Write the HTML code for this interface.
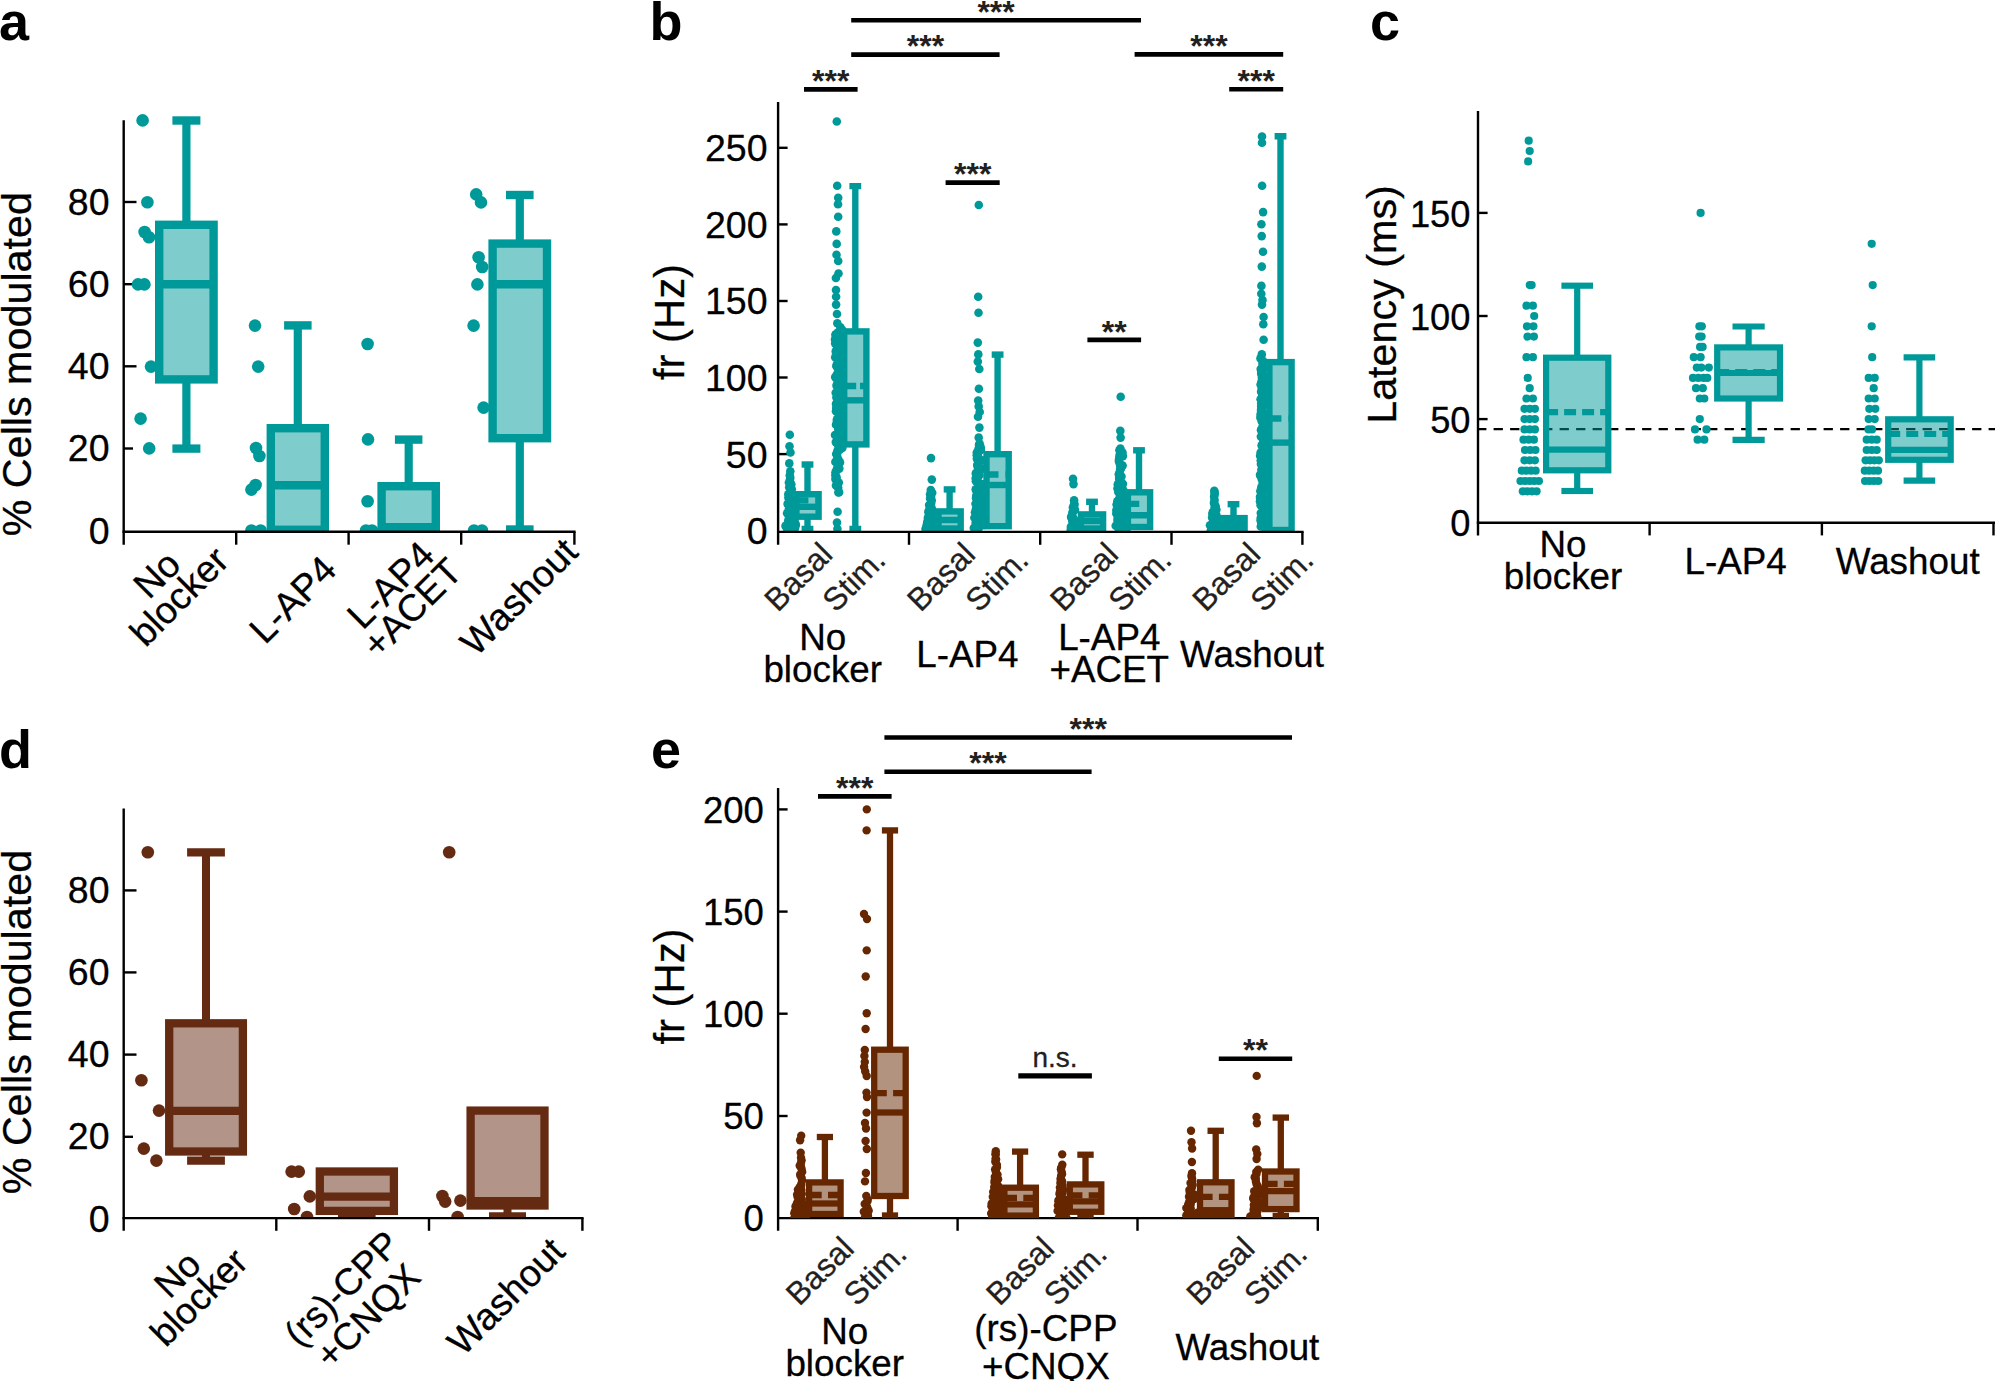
<!DOCTYPE html>
<html lang="en"><head><meta charset="utf-8"><title>Figure</title>
<style>html,body{margin:0;padding:0;background:#fff;}svg{display:block;}</style></head><body>
<svg width="1995" height="1381" viewBox="0 0 1995 1381" font-family="'Liberation Sans', Arial, Helvetica, sans-serif">
<rect width="1995" height="1381" fill="#fff"/>
<defs>
<clipPath id="ca"><rect x="100" y="90" width="520" height="441"/></clipPath>
<clipPath id="cb"><rect x="760" y="90" width="580" height="441.5"/></clipPath>
<clipPath id="cd"><rect x="100" y="790" width="520" height="428"/></clipPath>
<clipPath id="ce"><rect x="760" y="780" width="580" height="438.1"/></clipPath>
</defs>
<text x="-1" y="40" font-size="54" text-anchor="start" fill="#000" font-weight="bold">a</text>
<g transform="translate(16.2,364.2) rotate(-90)">
<text x="0" y="14.9" font-size="41.3" text-anchor="middle" fill="#000" stroke="#000" stroke-width="0.3">% Cells modulated</text>
</g>
<line x1="123.7" y1="448.5" x2="133" y2="448.5" stroke="#000" stroke-width="2.4"/>
<line x1="123.7" y1="366.3" x2="136.5" y2="366.3" stroke="#000" stroke-width="2.4"/>
<line x1="123.7" y1="284.2" x2="136.5" y2="284.2" stroke="#000" stroke-width="2.4"/>
<line x1="123.7" y1="202" x2="136.5" y2="202" stroke="#000" stroke-width="2.4"/>
<g clip-path="url(#ca)">
<line x1="186.4" y1="120.5" x2="186.4" y2="224.8" stroke="#009999" stroke-width="8.2"/>
<line x1="172.4" y1="120.5" x2="200.4" y2="120.5" stroke="#009999" stroke-width="8.4"/>
<line x1="186.4" y1="379.4" x2="186.4" y2="448.6" stroke="#009999" stroke-width="8.2"/>
<line x1="172.4" y1="448.6" x2="200.4" y2="448.6" stroke="#009999" stroke-width="8.4"/>
<rect x="159.2" y="224.8" width="54.4" height="154.6" fill="#009999" fill-opacity="0.5" stroke="#009999" stroke-width="8.4"/>
<line x1="159.2" y1="284.3" x2="213.6" y2="284.3" stroke="#009999" stroke-width="8.4"/>
<line x1="297.8" y1="325.4" x2="297.8" y2="428.2" stroke="#009999" stroke-width="8.2"/>
<line x1="284.1" y1="325.4" x2="311.6" y2="325.4" stroke="#009999" stroke-width="8.4"/>
<rect x="270.8" y="428.2" width="54" height="101.6" fill="#009999" fill-opacity="0.5" stroke="#009999" stroke-width="8.4"/>
<line x1="270.8" y1="485.2" x2="324.8" y2="485.2" stroke="#009999" stroke-width="8.4"/>
<line x1="408.7" y1="439.6" x2="408.7" y2="486.2" stroke="#009999" stroke-width="8.2"/>
<line x1="394.9" y1="439.6" x2="422.4" y2="439.6" stroke="#009999" stroke-width="8.4"/>
<rect x="381.6" y="486.2" width="54.2" height="41" fill="#009999" fill-opacity="0.5" stroke="#009999" stroke-width="8.4"/>
<line x1="519.8" y1="195" x2="519.8" y2="243.6" stroke="#009999" stroke-width="8.2"/>
<line x1="506" y1="195" x2="533.6" y2="195" stroke="#009999" stroke-width="8.4"/>
<line x1="519.8" y1="438.2" x2="519.8" y2="529.5" stroke="#009999" stroke-width="8.2"/>
<line x1="506" y1="529.5" x2="533.6" y2="529.5" stroke="#009999" stroke-width="8.4"/>
<rect x="492.6" y="243.6" width="54.4" height="194.6" fill="#009999" fill-opacity="0.5" stroke="#009999" stroke-width="8.4"/>
<line x1="492.6" y1="284.3" x2="547" y2="284.3" stroke="#009999" stroke-width="8.4"/>
<g fill="#009999"><circle cx="142.6" cy="120.4" r="6.3"/><circle cx="147.4" cy="202.2" r="6.3"/><circle cx="144.6" cy="232" r="6.3"/><circle cx="149" cy="237.2" r="6.3"/><circle cx="138" cy="284.4" r="6.3"/><circle cx="144.4" cy="284.4" r="6.3"/><circle cx="151" cy="366.6" r="6.3"/><circle cx="140.6" cy="418.6" r="6.3"/><circle cx="149.2" cy="448.4" r="6.3"/><circle cx="255" cy="325.6" r="6.3"/><circle cx="258.2" cy="366.6" r="6.3"/><circle cx="256" cy="448" r="6.3"/><circle cx="259.4" cy="456" r="6.3"/><circle cx="255.6" cy="485" r="6.3"/><circle cx="251.4" cy="489.6" r="6.3"/><circle cx="251.4" cy="530.5" r="6.3"/><circle cx="260.6" cy="530.5" r="6.3"/><circle cx="367.6" cy="344" r="6.3"/><circle cx="368" cy="439.4" r="6.3"/><circle cx="367.6" cy="501.2" r="6.3"/><circle cx="366" cy="530.5" r="6.3"/><circle cx="372" cy="530.5" r="6.3"/><circle cx="476.2" cy="194.4" r="6.3"/><circle cx="481" cy="202.4" r="6.3"/><circle cx="478.6" cy="257.2" r="6.3"/><circle cx="482.2" cy="267" r="6.3"/><circle cx="477.4" cy="284.4" r="6.3"/><circle cx="473.6" cy="325.6" r="6.3"/><circle cx="483.6" cy="407.6" r="6.3"/><circle cx="474" cy="530.5" r="6.3"/><circle cx="482" cy="530.5" r="6.3"/></g>
</g>
<line x1="123.7" y1="120.2" x2="123.7" y2="544.7" stroke="#000" stroke-width="2.4"/>
<line x1="122.5" y1="531.8" x2="575.6" y2="531.8" stroke="#000" stroke-width="2.4"/>
<line x1="236.2" y1="531.8" x2="236.2" y2="544.7" stroke="#000" stroke-width="2.4"/>
<line x1="348.6" y1="531.8" x2="348.6" y2="544.7" stroke="#000" stroke-width="2.4"/>
<line x1="461.2" y1="531.8" x2="461.2" y2="544.7" stroke="#000" stroke-width="2.4"/>
<line x1="574.4" y1="531.8" x2="574.4" y2="544.7" stroke="#000" stroke-width="2.4"/>
<text x="109.5" y="543.6" font-size="37.5" text-anchor="end" fill="#000" stroke="#000" stroke-width="0.3">0</text>
<text x="109.5" y="461.1" font-size="37.5" text-anchor="end" fill="#000" stroke="#000" stroke-width="0.3">20</text>
<text x="109.5" y="378.9" font-size="37.5" text-anchor="end" fill="#000" stroke="#000" stroke-width="0.3">40</text>
<text x="109.5" y="296.8" font-size="37.5" text-anchor="end" fill="#000" stroke="#000" stroke-width="0.3">60</text>
<text x="109.5" y="214.6" font-size="37.5" text-anchor="end" fill="#000" stroke="#000" stroke-width="0.3">80</text>
<g transform="translate(156.3,574.1) rotate(-45)">
<text x="0" y="13.5" font-size="37.5" text-anchor="middle" fill="#000" stroke="#000" stroke-width="0.3">No</text>
</g>
<g transform="translate(178.6,595.9) rotate(-45)">
<text x="0" y="13.5" font-size="37.5" text-anchor="middle" fill="#000" stroke="#000" stroke-width="0.3">blocker</text>
</g>
<g transform="translate(292.2,599) rotate(-45)">
<text x="0" y="13.5" font-size="37.5" text-anchor="middle" fill="#000" stroke="#000" stroke-width="0.3">L-AP4</text>
</g>
<g transform="translate(390,584.6) rotate(-45)">
<text x="0" y="13.5" font-size="37.5" text-anchor="middle" fill="#000" stroke="#000" stroke-width="0.3">L-AP4</text>
</g>
<g transform="translate(411.6,607.4) rotate(-45)">
<text x="0" y="13.5" font-size="37.5" text-anchor="middle" fill="#000" stroke="#000" stroke-width="0.3">+ACET</text>
</g>
<g transform="translate(518.4,596.4) rotate(-45)">
<text x="0" y="13.5" font-size="37.5" text-anchor="middle" fill="#000" stroke="#000" stroke-width="0.3">Washout</text>
</g>
<text x="649.5" y="40" font-size="54" text-anchor="start" fill="#000" font-weight="bold">b</text>
<g transform="translate(669,322) rotate(-90)">
<text x="0" y="15" font-size="41.8" text-anchor="middle" fill="#000" stroke="#000" stroke-width="0.3">fr (Hz)</text>
</g>
<line x1="851.2" y1="20.2" x2="1141" y2="20.2" stroke="#000" stroke-width="4.6"/>
<text x="996.1" y="22.8" font-size="32" text-anchor="middle" fill="#231f20" font-weight="bold">***</text>
<line x1="851.2" y1="54.6" x2="999.6" y2="54.6" stroke="#000" stroke-width="4.6"/>
<text x="925.4" y="57.2" font-size="32" text-anchor="middle" fill="#231f20" font-weight="bold">***</text>
<line x1="1134.6" y1="54.4" x2="1283.2" y2="54.4" stroke="#000" stroke-width="4.6"/>
<text x="1208.9" y="57" font-size="32" text-anchor="middle" fill="#231f20" font-weight="bold">***</text>
<line x1="804" y1="89.4" x2="857.6" y2="89.4" stroke="#000" stroke-width="4.6"/>
<text x="830.8" y="92" font-size="32" text-anchor="middle" fill="#231f20" font-weight="bold">***</text>
<line x1="1229.2" y1="89.2" x2="1283.2" y2="89.2" stroke="#000" stroke-width="4.6"/>
<text x="1256.2" y="91.8" font-size="32" text-anchor="middle" fill="#231f20" font-weight="bold">***</text>
<line x1="945.6" y1="182.6" x2="999.7" y2="182.6" stroke="#000" stroke-width="4.6"/>
<text x="972.7" y="185.2" font-size="32" text-anchor="middle" fill="#231f20" font-weight="bold">***</text>
<line x1="1087.4" y1="339.9" x2="1141.1" y2="339.9" stroke="#000" stroke-width="4.6"/>
<text x="1114.2" y="342.5" font-size="32" text-anchor="middle" fill="#231f20" font-weight="bold">**</text>
<line x1="778.1" y1="454.1" x2="787.6" y2="454.1" stroke="#000" stroke-width="2.4"/>
<line x1="778.1" y1="377.5" x2="787.6" y2="377.5" stroke="#000" stroke-width="2.4"/>
<line x1="778.1" y1="301" x2="787.6" y2="301" stroke="#000" stroke-width="2.4"/>
<line x1="778.1" y1="224.4" x2="787.6" y2="224.4" stroke="#000" stroke-width="2.4"/>
<line x1="778.1" y1="147.8" x2="787.6" y2="147.8" stroke="#000" stroke-width="2.4"/>
<g clip-path="url(#cb)">
<g fill="#009999"><circle cx="789.8" cy="434.8" r="4.3"/><circle cx="789.5" cy="446.3" r="4.3"/><circle cx="790.5" cy="452.5" r="4.3"/><circle cx="789.3" cy="463.4" r="4.3"/><circle cx="790.3" cy="471.2" r="4.3"/><circle cx="789.8" cy="475.3" r="4.3"/><circle cx="790.2" cy="477.5" r="4.3"/><circle cx="790" cy="479.7" r="4.3"/><circle cx="788.9" cy="482.5" r="4.3"/><circle cx="791.3" cy="484.2" r="4.3"/><circle cx="789.2" cy="487.2" r="4.3"/><circle cx="791.8" cy="489.3" r="4.3"/><circle cx="789.8" cy="492.2" r="4.3"/><circle cx="788.3" cy="494.2" r="4.3"/><circle cx="789.3" cy="495.2" r="4.3"/><circle cx="788.4" cy="497.7" r="4.3"/><circle cx="791.8" cy="499.7" r="4.3"/><circle cx="790.7" cy="502.6" r="4.3"/><circle cx="789.5" cy="502.5" r="4.3"/><circle cx="787.6" cy="503.9" r="4.3"/><circle cx="788.4" cy="504.9" r="4.3"/><circle cx="789.7" cy="506.5" r="4.3"/><circle cx="790.8" cy="506.7" r="4.3"/><circle cx="788.8" cy="509.5" r="4.3"/><circle cx="791.6" cy="508.6" r="4.3"/><circle cx="790.8" cy="511.2" r="4.3"/><circle cx="793" cy="511.6" r="4.3"/><circle cx="788.5" cy="514.2" r="4.3"/><circle cx="787.1" cy="513.3" r="4.3"/><circle cx="792.4" cy="515" r="4.3"/><circle cx="790.1" cy="514.9" r="4.3"/><circle cx="791.8" cy="518.2" r="4.3"/><circle cx="790.9" cy="518.4" r="4.3"/><circle cx="788.3" cy="520.3" r="4.3"/><circle cx="791.1" cy="520.1" r="4.3"/><circle cx="789.7" cy="522.7" r="4.3"/><circle cx="795" cy="522.2" r="4.3"/><circle cx="792" cy="521.5" r="4.3"/><circle cx="792.5" cy="524.6" r="4.3"/><circle cx="795.9" cy="524.9" r="4.3"/><circle cx="787.7" cy="524.2" r="4.3"/><circle cx="792.3" cy="525.8" r="4.3"/><circle cx="789.7" cy="526.1" r="4.3"/><circle cx="785.5" cy="525.9" r="4.3"/><circle cx="793.7" cy="528.2" r="4.3"/><circle cx="786.9" cy="528.6" r="4.3"/><circle cx="795.1" cy="528.1" r="4.3"/><circle cx="836.8" cy="121.5" r="4.3"/><circle cx="837.2" cy="185.7" r="4.3"/><circle cx="838.2" cy="197.8" r="4.3"/><circle cx="838" cy="204.3" r="4.3"/><circle cx="838.2" cy="216.8" r="4.3"/><circle cx="836.3" cy="231.4" r="4.3"/><circle cx="836.7" cy="243.9" r="4.3"/><circle cx="836.5" cy="254.8" r="4.3"/><circle cx="838.2" cy="261" r="4.3"/><circle cx="838.5" cy="273.5" r="4.3"/><circle cx="835.9" cy="278" r="4.3"/><circle cx="836" cy="290" r="4.3"/><circle cx="836.1" cy="296.8" r="4.3"/><circle cx="836.1" cy="304.6" r="4.3"/><circle cx="837" cy="314" r="4.3"/><circle cx="837.3" cy="323.3" r="4.3"/><circle cx="836.2" cy="454" r="4.3"/><circle cx="835.4" cy="461.9" r="4.3"/><circle cx="836.7" cy="469.6" r="4.3"/><circle cx="836.6" cy="477.4" r="4.3"/><circle cx="837.2" cy="483.7" r="4.3"/><circle cx="838.4" cy="492.4" r="4.3"/><circle cx="837.6" cy="511.7" r="4.3"/><circle cx="837" cy="522.6" r="4.3"/><circle cx="837.4" cy="528.8" r="4.3"/><circle cx="840.4" cy="327.3" r="4.3"/><circle cx="842.2" cy="329.9" r="4.3"/><circle cx="842" cy="331.5" r="4.3"/><circle cx="838.1" cy="332.3" r="4.3"/><circle cx="835.8" cy="334.2" r="4.3"/><circle cx="835.5" cy="334.8" r="4.3"/><circle cx="836.7" cy="336.5" r="4.3"/><circle cx="837.7" cy="337.8" r="4.3"/><circle cx="835" cy="339.4" r="4.3"/><circle cx="835.8" cy="341.3" r="4.3"/><circle cx="835.2" cy="343.6" r="4.3"/><circle cx="839.9" cy="343.9" r="4.3"/><circle cx="837" cy="345.8" r="4.3"/><circle cx="837.9" cy="346.9" r="4.3"/><circle cx="841.8" cy="349.8" r="4.3"/><circle cx="838.7" cy="350.5" r="4.3"/><circle cx="835.7" cy="351.4" r="4.3"/><circle cx="837.7" cy="353.1" r="4.3"/><circle cx="841.6" cy="354.5" r="4.3"/><circle cx="835.2" cy="357.2" r="4.3"/><circle cx="839.2" cy="357.4" r="4.3"/><circle cx="839.3" cy="358.7" r="4.3"/><circle cx="839.2" cy="361.8" r="4.3"/><circle cx="841.9" cy="362.8" r="4.3"/><circle cx="837.1" cy="363.8" r="4.3"/><circle cx="836.3" cy="365.9" r="4.3"/><circle cx="839.3" cy="367.4" r="4.3"/><circle cx="837.6" cy="368.1" r="4.3"/><circle cx="841.5" cy="370.8" r="4.3"/><circle cx="841.8" cy="372" r="4.3"/><circle cx="841.5" cy="373.4" r="4.3"/><circle cx="836.8" cy="374.5" r="4.3"/><circle cx="837.8" cy="375.2" r="4.3"/><circle cx="835.2" cy="377.1" r="4.3"/><circle cx="837.1" cy="379.3" r="4.3"/><circle cx="842.7" cy="380.4" r="4.3"/><circle cx="842.5" cy="382.8" r="4.3"/><circle cx="842.6" cy="383.3" r="4.3"/><circle cx="836.8" cy="384.6" r="4.3"/><circle cx="836.6" cy="386" r="4.3"/><circle cx="840" cy="388.6" r="4.3"/><circle cx="841.7" cy="389.5" r="4.3"/><circle cx="840.2" cy="391.5" r="4.3"/><circle cx="835.7" cy="392.8" r="4.3"/><circle cx="842.3" cy="394.5" r="4.3"/><circle cx="841" cy="395.5" r="4.3"/><circle cx="836.4" cy="397.5" r="4.3"/><circle cx="837.7" cy="399" r="4.3"/><circle cx="842.8" cy="399.8" r="4.3"/><circle cx="838.2" cy="402.2" r="4.3"/><circle cx="840.8" cy="402.5" r="4.3"/><circle cx="836" cy="403.9" r="4.3"/><circle cx="842.2" cy="406.5" r="4.3"/><circle cx="836.2" cy="408" r="4.3"/><circle cx="842.8" cy="409.3" r="4.3"/><circle cx="837.8" cy="410.6" r="4.3"/><circle cx="836" cy="411.2" r="4.3"/><circle cx="842.8" cy="413.7" r="4.3"/><circle cx="839.2" cy="415.7" r="4.3"/><circle cx="838.5" cy="417.1" r="4.3"/><circle cx="841.6" cy="417.5" r="4.3"/><circle cx="837" cy="419.2" r="4.3"/><circle cx="836.9" cy="421.1" r="4.3"/><circle cx="837.1" cy="422.4" r="4.3"/><circle cx="836" cy="424.7" r="4.3"/><circle cx="837.8" cy="425.4" r="4.3"/><circle cx="839.7" cy="427.6" r="4.3"/><circle cx="838.4" cy="429.2" r="4.3"/><circle cx="839" cy="430.1" r="4.3"/><circle cx="839.2" cy="430.7" r="4.3"/><circle cx="838.5" cy="432.5" r="4.3"/><circle cx="835" cy="435" r="4.3"/><circle cx="836.4" cy="436" r="4.3"/><circle cx="840.8" cy="437.6" r="4.3"/><circle cx="837.6" cy="439" r="4.3"/><circle cx="839.4" cy="441" r="4.3"/><circle cx="835.8" cy="442.1" r="4.3"/><circle cx="837" cy="443.1" r="4.3"/><circle cx="841.2" cy="445" r="4.3"/><circle cx="839.5" cy="446.9" r="4.3"/><circle cx="842.3" cy="447.9" r="4.3"/><circle cx="839.9" cy="449.5" r="4.3"/><circle cx="837.6" cy="450.3" r="4.3"/><circle cx="837.2" cy="453.3" r="4.3"/><circle cx="837.4" cy="457.1" r="4.3"/><circle cx="838.7" cy="460.2" r="4.3"/><circle cx="840" cy="462.4" r="4.3"/><circle cx="837.8" cy="466.7" r="4.3"/><circle cx="839.3" cy="468.6" r="4.3"/><circle cx="835.5" cy="472.3" r="4.3"/><circle cx="835.4" cy="475.2" r="4.3"/><circle cx="835.4" cy="479.1" r="4.3"/><circle cx="838.8" cy="482.6" r="4.3"/><circle cx="836" cy="485.5" r="4.3"/><circle cx="838.2" cy="487.8" r="4.3"/><circle cx="839.1" cy="492.3" r="4.3"/><circle cx="931" cy="458.1" r="4.3"/><circle cx="931.8" cy="479.6" r="4.3"/><circle cx="930.8" cy="490" r="4.3"/><circle cx="932.2" cy="492.7" r="4.3"/><circle cx="930.1" cy="494.3" r="4.3"/><circle cx="931" cy="496.3" r="4.3"/><circle cx="930.1" cy="498.5" r="4.3"/><circle cx="931.7" cy="500.2" r="4.3"/><circle cx="931.2" cy="503.1" r="4.3"/><circle cx="929.1" cy="505.1" r="4.3"/><circle cx="931.5" cy="507.6" r="4.3"/><circle cx="928.9" cy="510.6" r="4.3"/><circle cx="932.4" cy="510.6" r="4.3"/><circle cx="928.8" cy="511.6" r="4.3"/><circle cx="928.5" cy="512.4" r="4.3"/><circle cx="929.6" cy="513.6" r="4.3"/><circle cx="930.5" cy="514.9" r="4.3"/><circle cx="933.2" cy="516" r="4.3"/><circle cx="928.6" cy="517.1" r="4.3"/><circle cx="931.5" cy="518.9" r="4.3"/><circle cx="927.9" cy="517.9" r="4.3"/><circle cx="932.6" cy="520.7" r="4.3"/><circle cx="927.4" cy="521.5" r="4.3"/><circle cx="932.2" cy="523.5" r="4.3"/><circle cx="927.1" cy="523.6" r="4.3"/><circle cx="926.6" cy="525.8" r="4.3"/><circle cx="930.5" cy="524.9" r="4.3"/><circle cx="931.5" cy="525.9" r="4.3"/><circle cx="928.4" cy="526.8" r="4.3"/><circle cx="931.3" cy="527" r="4.3"/><circle cx="926.6" cy="526.9" r="4.3"/><circle cx="925.5" cy="529.1" r="4.3"/><circle cx="928.7" cy="529.3" r="4.3"/><circle cx="934.2" cy="529.3" r="4.3"/><circle cx="978.8" cy="205" r="4.3"/><circle cx="978.2" cy="296.8" r="4.3"/><circle cx="978.5" cy="312.7" r="4.3"/><circle cx="977.8" cy="342.6" r="4.3"/><circle cx="978.3" cy="354.4" r="4.3"/><circle cx="977.8" cy="361.6" r="4.3"/><circle cx="979.3" cy="369" r="4.3"/><circle cx="978.9" cy="388.7" r="4.3"/><circle cx="978.2" cy="400.5" r="4.3"/><circle cx="978.7" cy="406.4" r="4.3"/><circle cx="979.7" cy="412" r="4.3"/><circle cx="978" cy="416.7" r="4.3"/><circle cx="979.4" cy="427.6" r="4.3"/><circle cx="978.7" cy="437.6" r="4.3"/><circle cx="979.6" cy="443.5" r="4.3"/><circle cx="979" cy="444.7" r="4.3"/><circle cx="980.7" cy="447.2" r="4.3"/><circle cx="978.6" cy="448.6" r="4.3"/><circle cx="980.9" cy="450" r="4.3"/><circle cx="979" cy="451.3" r="4.3"/><circle cx="976.8" cy="452.6" r="4.3"/><circle cx="976.8" cy="455.3" r="4.3"/><circle cx="978" cy="456.1" r="4.3"/><circle cx="976.9" cy="458.8" r="4.3"/><circle cx="982.1" cy="460.3" r="4.3"/><circle cx="978.1" cy="461.3" r="4.3"/><circle cx="978.2" cy="463.3" r="4.3"/><circle cx="977.2" cy="465" r="4.3"/><circle cx="977.9" cy="467.5" r="4.3"/><circle cx="983" cy="468.6" r="4.3"/><circle cx="977.7" cy="470.9" r="4.3"/><circle cx="978.2" cy="471.7" r="4.3"/><circle cx="975.8" cy="473.4" r="4.3"/><circle cx="979.4" cy="475.3" r="4.3"/><circle cx="977.3" cy="477" r="4.3"/><circle cx="975.7" cy="478.3" r="4.3"/><circle cx="976.3" cy="480.2" r="4.3"/><circle cx="975.9" cy="481.3" r="4.3"/><circle cx="978" cy="481.7" r="4.3"/><circle cx="980.3" cy="483.8" r="4.3"/><circle cx="981.7" cy="484.1" r="4.3"/><circle cx="981.4" cy="486.1" r="4.3"/><circle cx="978.7" cy="485.2" r="4.3"/><circle cx="983.7" cy="486.6" r="4.3"/><circle cx="981.5" cy="487.4" r="4.3"/><circle cx="975.7" cy="489.4" r="4.3"/><circle cx="983" cy="489.1" r="4.3"/><circle cx="981.6" cy="491.1" r="4.3"/><circle cx="976.5" cy="490.6" r="4.3"/><circle cx="979.6" cy="492.8" r="4.3"/><circle cx="982.3" cy="492.8" r="4.3"/><circle cx="980.4" cy="494.6" r="4.3"/><circle cx="981.2" cy="494.3" r="4.3"/><circle cx="977.1" cy="494.9" r="4.3"/><circle cx="976.3" cy="495.5" r="4.3"/><circle cx="976" cy="497.9" r="4.3"/><circle cx="980.1" cy="497.6" r="4.3"/><circle cx="980.8" cy="499.4" r="4.3"/><circle cx="979.5" cy="498.3" r="4.3"/><circle cx="982.4" cy="501.2" r="4.3"/><circle cx="979.6" cy="500.9" r="4.3"/><circle cx="981.1" cy="501.8" r="4.3"/><circle cx="981.9" cy="502.1" r="4.3"/><circle cx="975.5" cy="503.8" r="4.3"/><circle cx="981.8" cy="503.7" r="4.3"/><circle cx="982" cy="506.7" r="4.3"/><circle cx="979.5" cy="505.7" r="4.3"/><circle cx="979.4" cy="507.9" r="4.3"/><circle cx="982.3" cy="507.8" r="4.3"/><circle cx="981" cy="508.6" r="4.3"/><circle cx="976" cy="508.9" r="4.3"/><circle cx="982.1" cy="510.7" r="4.3"/><circle cx="980.3" cy="510.2" r="4.3"/><circle cx="975" cy="512.3" r="4.3"/><circle cx="981.4" cy="513" r="4.3"/><circle cx="981.5" cy="514.1" r="4.3"/><circle cx="979.8" cy="514.3" r="4.3"/><circle cx="979.2" cy="515.5" r="4.3"/><circle cx="983.8" cy="515.6" r="4.3"/><circle cx="984.8" cy="518.5" r="4.3"/><circle cx="974.4" cy="517.7" r="4.3"/><circle cx="983.1" cy="520.2" r="4.3"/><circle cx="979" cy="519.1" r="4.3"/><circle cx="976.4" cy="521.9" r="4.3"/><circle cx="976.4" cy="521.3" r="4.3"/><circle cx="975.6" cy="522.9" r="4.3"/><circle cx="984.7" cy="522.3" r="4.3"/><circle cx="983.3" cy="524.6" r="4.3"/><circle cx="984" cy="524.9" r="4.3"/><circle cx="976.5" cy="526.9" r="4.3"/><circle cx="979.4" cy="525.5" r="4.3"/><circle cx="973.8" cy="528" r="4.3"/><circle cx="979" cy="527.7" r="4.3"/><circle cx="975.3" cy="529.5" r="4.3"/><circle cx="977.4" cy="530.2" r="4.3"/><circle cx="1073" cy="478.7" r="4.3"/><circle cx="1073.5" cy="484.1" r="4.3"/><circle cx="1074.1" cy="500.4" r="4.3"/><circle cx="1074.3" cy="503.5" r="4.3"/><circle cx="1074.4" cy="505.1" r="4.3"/><circle cx="1072.9" cy="507.4" r="4.3"/><circle cx="1075" cy="509.9" r="4.3"/><circle cx="1072.7" cy="511.9" r="4.3"/><circle cx="1072.3" cy="513.5" r="4.3"/><circle cx="1071.1" cy="516.9" r="4.3"/><circle cx="1072.1" cy="517.1" r="4.3"/><circle cx="1071.7" cy="518.2" r="4.3"/><circle cx="1073.4" cy="518.1" r="4.3"/><circle cx="1072.4" cy="521.5" r="4.3"/><circle cx="1076.2" cy="521.3" r="4.3"/><circle cx="1074.4" cy="523.7" r="4.3"/><circle cx="1077.1" cy="523.1" r="4.3"/><circle cx="1075.5" cy="524.5" r="4.3"/><circle cx="1075.6" cy="525.1" r="4.3"/><circle cx="1076.2" cy="527.6" r="4.3"/><circle cx="1070.9" cy="526.7" r="4.3"/><circle cx="1078.2" cy="526.8" r="4.3"/><circle cx="1072.9" cy="529.3" r="4.3"/><circle cx="1070.7" cy="530" r="4.3"/><circle cx="1079.5" cy="529.2" r="4.3"/><circle cx="1120.7" cy="396.7" r="4.3"/><circle cx="1120.3" cy="430.9" r="4.3"/><circle cx="1120.6" cy="437.6" r="4.3"/><circle cx="1120.4" cy="448.5" r="4.3"/><circle cx="1119.4" cy="450.3" r="4.3"/><circle cx="1122.5" cy="452.6" r="4.3"/><circle cx="1119.6" cy="455.1" r="4.3"/><circle cx="1122.9" cy="456.1" r="4.3"/><circle cx="1119.3" cy="457.5" r="4.3"/><circle cx="1119" cy="459.5" r="4.3"/><circle cx="1119" cy="461.2" r="4.3"/><circle cx="1119.7" cy="463.5" r="4.3"/><circle cx="1122.6" cy="465.6" r="4.3"/><circle cx="1120.4" cy="466.9" r="4.3"/><circle cx="1120.9" cy="468.6" r="4.3"/><circle cx="1120" cy="469.9" r="4.3"/><circle cx="1119.6" cy="473.1" r="4.3"/><circle cx="1118.8" cy="474.2" r="4.3"/><circle cx="1121.5" cy="476.6" r="4.3"/><circle cx="1119.2" cy="477.4" r="4.3"/><circle cx="1119.3" cy="479.4" r="4.3"/><circle cx="1120.5" cy="482.1" r="4.3"/><circle cx="1122.9" cy="483.8" r="4.3"/><circle cx="1117.8" cy="484.3" r="4.3"/><circle cx="1122.2" cy="487.4" r="4.3"/><circle cx="1120.6" cy="488.7" r="4.3"/><circle cx="1117.5" cy="488.4" r="4.3"/><circle cx="1123.7" cy="490.9" r="4.3"/><circle cx="1123.2" cy="491.2" r="4.3"/><circle cx="1119" cy="491.6" r="4.3"/><circle cx="1118.4" cy="492.2" r="4.3"/><circle cx="1122.1" cy="494.7" r="4.3"/><circle cx="1122.4" cy="494.2" r="4.3"/><circle cx="1122.8" cy="495.7" r="4.3"/><circle cx="1121.2" cy="495.1" r="4.3"/><circle cx="1123" cy="497.2" r="4.3"/><circle cx="1124" cy="497.8" r="4.3"/><circle cx="1119.3" cy="498.8" r="4.3"/><circle cx="1118.9" cy="499.6" r="4.3"/><circle cx="1122.4" cy="500.6" r="4.3"/><circle cx="1117.3" cy="501.2" r="4.3"/><circle cx="1121.5" cy="502.8" r="4.3"/><circle cx="1118.5" cy="503.2" r="4.3"/><circle cx="1116.6" cy="504.5" r="4.3"/><circle cx="1120.5" cy="505.5" r="4.3"/><circle cx="1122.1" cy="507.2" r="4.3"/><circle cx="1120.6" cy="506.2" r="4.3"/><circle cx="1118.5" cy="509.1" r="4.3"/><circle cx="1122.6" cy="508.1" r="4.3"/><circle cx="1116.4" cy="510.2" r="4.3"/><circle cx="1122.4" cy="510.1" r="4.3"/><circle cx="1118.5" cy="512.3" r="4.3"/><circle cx="1124.8" cy="511.6" r="4.3"/><circle cx="1116.3" cy="513.5" r="4.3"/><circle cx="1120" cy="514.1" r="4.3"/><circle cx="1117.8" cy="516.1" r="4.3"/><circle cx="1123.2" cy="515.6" r="4.3"/><circle cx="1117.8" cy="518.2" r="4.3"/><circle cx="1118.9" cy="517.9" r="4.3"/><circle cx="1118" cy="518.8" r="4.3"/><circle cx="1123.5" cy="518.9" r="4.3"/><circle cx="1125.6" cy="521" r="4.3"/><circle cx="1117.5" cy="520.6" r="4.3"/><circle cx="1119.9" cy="523.1" r="4.3"/><circle cx="1125.7" cy="522.2" r="4.3"/><circle cx="1119.6" cy="524.1" r="4.3"/><circle cx="1126.1" cy="524" r="4.3"/><circle cx="1115.7" cy="525.7" r="4.3"/><circle cx="1119.6" cy="527" r="4.3"/><circle cx="1125.2" cy="528.6" r="4.3"/><circle cx="1126.6" cy="528.9" r="4.3"/><circle cx="1118.8" cy="529.5" r="4.3"/><circle cx="1126" cy="530.4" r="4.3"/><circle cx="1214.3" cy="490.8" r="4.3"/><circle cx="1214.7" cy="492.5" r="4.3"/><circle cx="1214.6" cy="494.4" r="4.3"/><circle cx="1214.1" cy="496.7" r="4.3"/><circle cx="1214.6" cy="500" r="4.3"/><circle cx="1214.1" cy="502.2" r="4.3"/><circle cx="1214.1" cy="503.5" r="4.3"/><circle cx="1215.7" cy="506.4" r="4.3"/><circle cx="1214.6" cy="507.4" r="4.3"/><circle cx="1214.7" cy="510.1" r="4.3"/><circle cx="1216.4" cy="509.8" r="4.3"/><circle cx="1214.2" cy="513.1" r="4.3"/><circle cx="1212.7" cy="512.4" r="4.3"/><circle cx="1216.4" cy="515.1" r="4.3"/><circle cx="1212.4" cy="514" r="4.3"/><circle cx="1212.1" cy="517.6" r="4.3"/><circle cx="1213.3" cy="517.3" r="4.3"/><circle cx="1217.6" cy="518.8" r="4.3"/><circle cx="1213.2" cy="519.8" r="4.3"/><circle cx="1215.7" cy="520.9" r="4.3"/><circle cx="1216.5" cy="521" r="4.3"/><circle cx="1212.8" cy="522.7" r="4.3"/><circle cx="1217.1" cy="524.2" r="4.3"/><circle cx="1216.1" cy="526.4" r="4.3"/><circle cx="1210" cy="525.3" r="4.3"/><circle cx="1214.6" cy="526.4" r="4.3"/><circle cx="1219.9" cy="527.7" r="4.3"/><circle cx="1212" cy="527.8" r="4.3"/><circle cx="1214.7" cy="528.6" r="4.3"/><circle cx="1210.8" cy="530.6" r="4.3"/><circle cx="1217.8" cy="530.6" r="4.3"/><circle cx="1218.2" cy="530.3" r="4.3"/><circle cx="1262" cy="136.5" r="4.3"/><circle cx="1262" cy="142.7" r="4.3"/><circle cx="1262.1" cy="185.7" r="4.3"/><circle cx="1263.1" cy="212.1" r="4.3"/><circle cx="1261.4" cy="224.3" r="4.3"/><circle cx="1261.7" cy="236.1" r="4.3"/><circle cx="1263" cy="251.7" r="4.3"/><circle cx="1261.8" cy="266.6" r="4.3"/><circle cx="1261.4" cy="285.9" r="4.3"/><circle cx="1261.3" cy="293.7" r="4.3"/><circle cx="1262.5" cy="300" r="4.3"/><circle cx="1262" cy="304.6" r="4.3"/><circle cx="1263.6" cy="317" r="4.3"/><circle cx="1263.3" cy="324.2" r="4.3"/><circle cx="1263.6" cy="339.8" r="4.3"/><circle cx="1261.8" cy="354.4" r="4.3"/><circle cx="1260.5" cy="358.4" r="4.3"/><circle cx="1263" cy="360.9" r="4.3"/><circle cx="1262.7" cy="361.8" r="4.3"/><circle cx="1262.5" cy="364" r="4.3"/><circle cx="1264" cy="365.8" r="4.3"/><circle cx="1265.1" cy="367.3" r="4.3"/><circle cx="1260.7" cy="369.1" r="4.3"/><circle cx="1261.8" cy="370.3" r="4.3"/><circle cx="1262.2" cy="372.2" r="4.3"/><circle cx="1261.2" cy="373" r="4.3"/><circle cx="1261.5" cy="374.4" r="4.3"/><circle cx="1265.3" cy="376.7" r="4.3"/><circle cx="1261.9" cy="378" r="4.3"/><circle cx="1266" cy="379.8" r="4.3"/><circle cx="1261.4" cy="381.9" r="4.3"/><circle cx="1263.9" cy="383.8" r="4.3"/><circle cx="1260.6" cy="384.6" r="4.3"/><circle cx="1265" cy="386.7" r="4.3"/><circle cx="1265.5" cy="387.1" r="4.3"/><circle cx="1261.7" cy="388.8" r="4.3"/><circle cx="1261.1" cy="391.8" r="4.3"/><circle cx="1263.5" cy="393.3" r="4.3"/><circle cx="1262.2" cy="394.8" r="4.3"/><circle cx="1262.7" cy="395.4" r="4.3"/><circle cx="1264.7" cy="398.1" r="4.3"/><circle cx="1260.6" cy="399.2" r="4.3"/><circle cx="1263.7" cy="400.1" r="4.3"/><circle cx="1262.2" cy="401.6" r="4.3"/><circle cx="1261.2" cy="403.4" r="4.3"/><circle cx="1263.6" cy="405.6" r="4.3"/><circle cx="1261.2" cy="406.2" r="4.3"/><circle cx="1261.9" cy="408.9" r="4.3"/><circle cx="1261" cy="409.9" r="4.3"/><circle cx="1261.1" cy="412.3" r="4.3"/><circle cx="1263.3" cy="412.7" r="4.3"/><circle cx="1260.5" cy="414.8" r="4.3"/><circle cx="1263.3" cy="416.8" r="4.3"/><circle cx="1260.4" cy="417.7" r="4.3"/><circle cx="1264.2" cy="419.7" r="4.3"/><circle cx="1261.6" cy="421.1" r="4.3"/><circle cx="1265.9" cy="422.7" r="4.3"/><circle cx="1263.4" cy="424.4" r="4.3"/><circle cx="1262.5" cy="426.8" r="4.3"/><circle cx="1266.1" cy="427.6" r="4.3"/><circle cx="1261.1" cy="429.8" r="4.3"/><circle cx="1261.1" cy="430.2" r="4.3"/><circle cx="1265.5" cy="432.5" r="4.3"/><circle cx="1265" cy="434" r="4.3"/><circle cx="1265.4" cy="435.7" r="4.3"/><circle cx="1260.9" cy="436.6" r="4.3"/><circle cx="1263.3" cy="439.2" r="4.3"/><circle cx="1265.6" cy="439.9" r="4.3"/><circle cx="1263.8" cy="442" r="4.3"/><circle cx="1263" cy="443.2" r="4.3"/><circle cx="1261.6" cy="445.4" r="4.3"/><circle cx="1265.7" cy="446.4" r="4.3"/><circle cx="1262.9" cy="449.1" r="4.3"/><circle cx="1266" cy="449.7" r="4.3"/><circle cx="1260.6" cy="452.5" r="4.3"/><circle cx="1266.1" cy="453.4" r="4.3"/><circle cx="1260.1" cy="455.7" r="4.3"/><circle cx="1262.3" cy="457.2" r="4.3"/><circle cx="1263.8" cy="458.7" r="4.3"/><circle cx="1260.8" cy="460.3" r="4.3"/><circle cx="1261.2" cy="461.2" r="4.3"/><circle cx="1265.2" cy="463.5" r="4.3"/><circle cx="1260.9" cy="464.1" r="4.3"/><circle cx="1262.3" cy="466.2" r="4.3"/><circle cx="1262.2" cy="467.2" r="4.3"/><circle cx="1261.4" cy="469.8" r="4.3"/><circle cx="1265.6" cy="470.3" r="4.3"/><circle cx="1263.4" cy="473" r="4.3"/><circle cx="1260" cy="474.7" r="4.3"/><circle cx="1260.5" cy="476" r="4.3"/><circle cx="1263.3" cy="477.6" r="4.3"/><circle cx="1261.7" cy="478.9" r="4.3"/><circle cx="1263.5" cy="480.5" r="4.3"/><circle cx="1264" cy="482.1" r="4.3"/><circle cx="1262.6" cy="483" r="4.3"/><circle cx="1263.8" cy="485.4" r="4.3"/><circle cx="1261.3" cy="487.4" r="4.3"/><circle cx="1264.8" cy="488.5" r="4.3"/><circle cx="1260.9" cy="490.2" r="4.3"/><circle cx="1260.4" cy="491.2" r="4.3"/><circle cx="1262.5" cy="492.7" r="4.3"/><circle cx="1262.6" cy="495" r="4.3"/><circle cx="1260" cy="496.8" r="4.3"/><circle cx="1260.2" cy="498.6" r="4.3"/><circle cx="1264.8" cy="499.8" r="4.3"/><circle cx="1260" cy="501.4" r="4.3"/><circle cx="1262.2" cy="503.7" r="4.3"/><circle cx="1260.6" cy="505.2" r="4.3"/><circle cx="1266.3" cy="506.6" r="4.3"/><circle cx="1265.1" cy="507.3" r="4.3"/><circle cx="1266.2" cy="509.4" r="4.3"/><circle cx="1266.1" cy="511.7" r="4.3"/><circle cx="1260.8" cy="513.1" r="4.3"/><circle cx="1265.9" cy="513.5" r="4.3"/><circle cx="1262" cy="516.2" r="4.3"/><circle cx="1260.7" cy="518" r="4.3"/><circle cx="1261.5" cy="519.5" r="4.3"/><circle cx="1260.6" cy="520.6" r="4.3"/><circle cx="1265.8" cy="521.7" r="4.3"/><circle cx="1261.4" cy="523.8" r="4.3"/><circle cx="1261.8" cy="524.7" r="4.3"/><circle cx="1260.8" cy="526.5" r="4.3"/><circle cx="1266" cy="528.9" r="4.3"/><circle cx="1265.7" cy="529.7" r="4.3"/></g>
<line x1="807.5" y1="464.5" x2="807.5" y2="494.2" stroke="#009999" stroke-width="6.4"/>
<line x1="801.6" y1="464.5" x2="813.4" y2="464.5" stroke="#009999" stroke-width="6.4"/>
<line x1="807.5" y1="516.7" x2="807.5" y2="529" stroke="#009999" stroke-width="6.4"/>
<line x1="801.6" y1="529" x2="813.4" y2="529" stroke="#009999" stroke-width="6.4"/>
<rect x="796.4" y="494.2" width="22.2" height="22.5" fill="#009999" fill-opacity="0.5" stroke="#009999" stroke-width="6.4"/>
<line x1="796.4" y1="506.8" x2="818.6" y2="506.8" stroke="#009999" stroke-width="6.4"/>
<line x1="796.4" y1="500.4" x2="818.6" y2="500.4" stroke="#009999" stroke-width="6.4" stroke-dasharray="12 7"/>
<line x1="855.3" y1="186.1" x2="855.3" y2="331.4" stroke="#009999" stroke-width="6.4"/>
<line x1="849.4" y1="186.1" x2="861.2" y2="186.1" stroke="#009999" stroke-width="6.4"/>
<line x1="855.3" y1="444.4" x2="855.3" y2="529" stroke="#009999" stroke-width="6.4"/>
<line x1="849.4" y1="529" x2="861.2" y2="529" stroke="#009999" stroke-width="6.4"/>
<rect x="844.2" y="331.4" width="22.2" height="113" fill="#009999" fill-opacity="0.5" stroke="#009999" stroke-width="6.4"/>
<line x1="844.2" y1="400.3" x2="866.4" y2="400.3" stroke="#009999" stroke-width="6.4"/>
<line x1="844.2" y1="386" x2="866.4" y2="386" stroke="#009999" stroke-width="6.4" stroke-dasharray="12 3.8"/>
<line x1="949.6" y1="489.4" x2="949.6" y2="511.4" stroke="#009999" stroke-width="6.4"/>
<line x1="943.7" y1="489.4" x2="955.5" y2="489.4" stroke="#009999" stroke-width="6.4"/>
<rect x="938.5" y="511.4" width="22.2" height="17.1" fill="#009999" fill-opacity="0.5" stroke="#009999" stroke-width="6.4"/>
<line x1="938.5" y1="520" x2="960.7" y2="520" stroke="#009999" stroke-width="6.4"/>
<line x1="997.6" y1="354.6" x2="997.6" y2="454.2" stroke="#009999" stroke-width="6.4"/>
<line x1="991.7" y1="354.6" x2="1003.5" y2="354.6" stroke="#009999" stroke-width="6.4"/>
<rect x="986.5" y="454.2" width="22.2" height="72" fill="#009999" fill-opacity="0.5" stroke="#009999" stroke-width="6.4"/>
<line x1="986.5" y1="485" x2="1008.7" y2="485" stroke="#009999" stroke-width="6.4"/>
<line x1="986.5" y1="474.5" x2="1008.7" y2="474.5" stroke="#009999" stroke-width="6.4" stroke-dasharray="12 7"/>
<line x1="1092" y1="501.8" x2="1092" y2="514.4" stroke="#009999" stroke-width="6.4"/>
<line x1="1086.1" y1="501.8" x2="1097.9" y2="501.8" stroke="#009999" stroke-width="6.4"/>
<rect x="1080.9" y="514.4" width="22.2" height="14.1" fill="#009999" fill-opacity="0.5" stroke="#009999" stroke-width="6.4"/>
<line x1="1080.9" y1="521" x2="1103.1" y2="521" stroke="#009999" stroke-width="6.4"/>
<line x1="1139" y1="450.3" x2="1139" y2="492.3" stroke="#009999" stroke-width="6.4"/>
<line x1="1133.1" y1="450.3" x2="1144.9" y2="450.3" stroke="#009999" stroke-width="6.4"/>
<rect x="1127.9" y="492.3" width="22.2" height="34.7" fill="#009999" fill-opacity="0.5" stroke="#009999" stroke-width="6.4"/>
<line x1="1127.9" y1="515.3" x2="1150.1" y2="515.3" stroke="#009999" stroke-width="6.4"/>
<line x1="1127.9" y1="503.9" x2="1150.1" y2="503.9" stroke="#009999" stroke-width="6.4" stroke-dasharray="11.4 9"/>
<line x1="1233.5" y1="504.2" x2="1233.5" y2="518.1" stroke="#009999" stroke-width="6.4"/>
<line x1="1227.6" y1="504.2" x2="1239.4" y2="504.2" stroke="#009999" stroke-width="6.4"/>
<rect x="1222.4" y="518.1" width="22.2" height="10.4" fill="#009999" fill-opacity="0.5" stroke="#009999" stroke-width="6.4"/>
<line x1="1222.4" y1="523" x2="1244.6" y2="523" stroke="#009999" stroke-width="6.4"/>
<line x1="1280.5" y1="136.3" x2="1280.5" y2="362.1" stroke="#009999" stroke-width="6.4"/>
<line x1="1274.6" y1="136.3" x2="1286.4" y2="136.3" stroke="#009999" stroke-width="6.4"/>
<rect x="1269.4" y="362.1" width="22.2" height="167.9" fill="#009999" fill-opacity="0.5" stroke="#009999" stroke-width="6.4"/>
<line x1="1269.4" y1="442.6" x2="1291.6" y2="442.6" stroke="#009999" stroke-width="6.4"/>
<line x1="1269.4" y1="418.5" x2="1291.6" y2="418.5" stroke="#009999" stroke-width="6.4" stroke-dasharray="12 7"/>
</g>
<line x1="778.1" y1="102" x2="778.1" y2="544.8" stroke="#000" stroke-width="2.4"/>
<line x1="777" y1="531.9" x2="1303.6" y2="531.9" stroke="#000" stroke-width="2.4"/>
<line x1="909" y1="531.9" x2="909" y2="544.8" stroke="#000" stroke-width="2.4"/>
<line x1="1040.2" y1="531.9" x2="1040.2" y2="544.8" stroke="#000" stroke-width="2.4"/>
<line x1="1171.5" y1="531.9" x2="1171.5" y2="544.8" stroke="#000" stroke-width="2.4"/>
<line x1="1302.4" y1="531.9" x2="1302.4" y2="544.8" stroke="#000" stroke-width="2.4"/>
<text x="767.5" y="544.4" font-size="37.5" text-anchor="end" fill="#000" stroke="#000" stroke-width="0.3">0</text>
<text x="767.5" y="467.5" font-size="37.5" text-anchor="end" fill="#000" stroke="#000" stroke-width="0.3">50</text>
<text x="767.5" y="390.9" font-size="37.5" text-anchor="end" fill="#000" stroke="#000" stroke-width="0.3">100</text>
<text x="767.5" y="314.4" font-size="37.5" text-anchor="end" fill="#000" stroke="#000" stroke-width="0.3">150</text>
<text x="767.5" y="237.8" font-size="37.5" text-anchor="end" fill="#000" stroke="#000" stroke-width="0.3">200</text>
<text x="767.5" y="161.2" font-size="37.5" text-anchor="end" fill="#000" stroke="#000" stroke-width="0.3">250</text>
<g transform="translate(797.8,576.5) rotate(-45)">
<text x="0" y="11.5" font-size="32" text-anchor="middle" fill="#231f20" stroke="#231f20" stroke-width="0.3">Basal</text>
</g>
<g transform="translate(853.5,579.5) rotate(-45)">
<text x="0" y="11.5" font-size="32" text-anchor="middle" fill="#231f20" stroke="#231f20" stroke-width="0.3">Stim.</text>
</g>
<g transform="translate(940.7,576.5) rotate(-45)">
<text x="0" y="11.5" font-size="32" text-anchor="middle" fill="#231f20" stroke="#231f20" stroke-width="0.3">Basal</text>
</g>
<g transform="translate(996.4,579.5) rotate(-45)">
<text x="0" y="11.5" font-size="32" text-anchor="middle" fill="#231f20" stroke="#231f20" stroke-width="0.3">Stim.</text>
</g>
<g transform="translate(1083.6,576.5) rotate(-45)">
<text x="0" y="11.5" font-size="32" text-anchor="middle" fill="#231f20" stroke="#231f20" stroke-width="0.3">Basal</text>
</g>
<g transform="translate(1139.3,579.5) rotate(-45)">
<text x="0" y="11.5" font-size="32" text-anchor="middle" fill="#231f20" stroke="#231f20" stroke-width="0.3">Stim.</text>
</g>
<g transform="translate(1225.8,576.5) rotate(-45)">
<text x="0" y="11.5" font-size="32" text-anchor="middle" fill="#231f20" stroke="#231f20" stroke-width="0.3">Basal</text>
</g>
<g transform="translate(1281.5,579.5) rotate(-45)">
<text x="0" y="11.5" font-size="32" text-anchor="middle" fill="#231f20" stroke="#231f20" stroke-width="0.3">Stim.</text>
</g>
<text x="822.7" y="650.4" font-size="36.8" text-anchor="middle" fill="#000" stroke="#000" stroke-width="0.3">No</text>
<text x="822.7" y="681.6" font-size="36.8" text-anchor="middle" fill="#000" stroke="#000" stroke-width="0.3">blocker</text>
<text x="967.4" y="667" font-size="36.8" text-anchor="middle" fill="#000" stroke="#000" stroke-width="0.3">L-AP4</text>
<text x="1109.3" y="650.4" font-size="36.8" text-anchor="middle" fill="#000" stroke="#000" stroke-width="0.3">L-AP4</text>
<text x="1109.3" y="682" font-size="36.8" text-anchor="middle" fill="#000" stroke="#000" stroke-width="0.3">+ACET</text>
<text x="1252" y="667" font-size="36.8" text-anchor="middle" fill="#000" stroke="#000" stroke-width="0.3">Washout</text>
<text x="1370" y="40" font-size="54" text-anchor="start" fill="#000" font-weight="bold">c</text>
<g transform="translate(1381,304.5) rotate(-90)">
<text x="0" y="14.9" font-size="41.3" text-anchor="middle" fill="#000" stroke="#000" stroke-width="0.3">Latency (ms)</text>
</g>
<line x1="1477.1" y1="429.1" x2="1995" y2="429.1" stroke="#000" stroke-width="2.1" stroke-dasharray="9.3 7.2"/>
<line x1="1577.2" y1="285.7" x2="1577.2" y2="357.7" stroke="#009999" stroke-width="6.2"/>
<line x1="1561.4" y1="285.7" x2="1593" y2="285.7" stroke="#009999" stroke-width="6.2"/>
<line x1="1577.2" y1="470.3" x2="1577.2" y2="491" stroke="#009999" stroke-width="6.2"/>
<line x1="1561.4" y1="491" x2="1593" y2="491" stroke="#009999" stroke-width="6.2"/>
<rect x="1546.1" y="357.7" width="62.2" height="112.6" fill="#009999" fill-opacity="0.5" stroke="#009999" stroke-width="6.2"/>
<line x1="1546.1" y1="449.6" x2="1608.3" y2="449.6" stroke="#009999" stroke-width="6.2"/>
<line x1="1546.1" y1="412.2" x2="1608.3" y2="412.2" stroke="#009999" stroke-width="6.2" stroke-dasharray="12 6"/>
<line x1="1748.6" y1="326.5" x2="1748.6" y2="347.4" stroke="#009999" stroke-width="6.2"/>
<line x1="1732.5" y1="326.5" x2="1764.7" y2="326.5" stroke="#009999" stroke-width="6.2"/>
<line x1="1748.6" y1="398.5" x2="1748.6" y2="439.8" stroke="#009999" stroke-width="6.2"/>
<line x1="1732.5" y1="439.8" x2="1764.7" y2="439.8" stroke="#009999" stroke-width="6.2"/>
<rect x="1717.2" y="347.4" width="62.8" height="51.1" fill="#009999" fill-opacity="0.5" stroke="#009999" stroke-width="6.2"/>
<line x1="1717.2" y1="373" x2="1780" y2="373" stroke="#009999" stroke-width="6.2"/>
<line x1="1717.2" y1="372.1" x2="1780" y2="372.1" stroke="#009999" stroke-width="6.2" stroke-dasharray="12 6"/>
<line x1="1919.4" y1="357.3" x2="1919.4" y2="419.3" stroke="#009999" stroke-width="6.2"/>
<line x1="1903.6" y1="357.3" x2="1935.2" y2="357.3" stroke="#009999" stroke-width="6.2"/>
<line x1="1919.4" y1="459.8" x2="1919.4" y2="480.6" stroke="#009999" stroke-width="6.2"/>
<line x1="1903.6" y1="480.6" x2="1935.2" y2="480.6" stroke="#009999" stroke-width="6.2"/>
<rect x="1888.2" y="419.3" width="62.5" height="40.5" fill="#009999" fill-opacity="0.5" stroke="#009999" stroke-width="6.2"/>
<line x1="1888.2" y1="449.8" x2="1950.7" y2="449.8" stroke="#009999" stroke-width="6.2"/>
<line x1="1888.2" y1="434" x2="1950.7" y2="434" stroke="#009999" stroke-width="6.2" stroke-dasharray="12 6"/>
<g fill="#009999"><circle cx="1528.7" cy="140.7" r="4.1"/><circle cx="1529.7" cy="151" r="4.1"/><circle cx="1528.1" cy="161.4" r="4.1"/><circle cx="1529.8" cy="285.1" r="4.1"/><circle cx="1531.6" cy="285.1" r="4.1"/><circle cx="1526.5" cy="305.7" r="4.1"/><circle cx="1532.9" cy="305.7" r="4.1"/><circle cx="1534.2" cy="316" r="4.1"/><circle cx="1527" cy="326.3" r="4.1"/><circle cx="1533.4" cy="326.3" r="4.1"/><circle cx="1527.5" cy="336.6" r="4.1"/><circle cx="1533.9" cy="336.6" r="4.1"/><circle cx="1526.5" cy="357.2" r="4.1"/><circle cx="1532.9" cy="357.2" r="4.1"/><circle cx="1527.7" cy="377.9" r="4.1"/><circle cx="1529.7" cy="388.2" r="4.1"/><circle cx="1526.5" cy="398.5" r="4.1"/><circle cx="1532.9" cy="398.5" r="4.1"/><circle cx="1524.5" cy="408.8" r="4.1"/><circle cx="1529.7" cy="408.8" r="4.1"/><circle cx="1534.9" cy="408.8" r="4.1"/><circle cx="1524.5" cy="419.1" r="4.1"/><circle cx="1529.7" cy="419.1" r="4.1"/><circle cx="1534.9" cy="419.1" r="4.1"/><circle cx="1524.5" cy="429.4" r="4.1"/><circle cx="1529.7" cy="429.4" r="4.1"/><circle cx="1534.9" cy="429.4" r="4.1"/><circle cx="1523.5" cy="439.7" r="4.1"/><circle cx="1528.7" cy="439.7" r="4.1"/><circle cx="1533.9" cy="439.7" r="4.1"/><circle cx="1525" cy="450" r="4.1"/><circle cx="1530.2" cy="450" r="4.1"/><circle cx="1535.4" cy="450" r="4.1"/><circle cx="1524.5" cy="460.3" r="4.1"/><circle cx="1529.7" cy="460.3" r="4.1"/><circle cx="1534.9" cy="460.3" r="4.1"/><circle cx="1521.8" cy="470.7" r="4.1"/><circle cx="1526.4" cy="470.7" r="4.1"/><circle cx="1531" cy="470.7" r="4.1"/><circle cx="1535.6" cy="470.7" r="4.1"/><circle cx="1520.5" cy="481" r="4.1"/><circle cx="1525.1" cy="481" r="4.1"/><circle cx="1529.7" cy="481" r="4.1"/><circle cx="1534.3" cy="481" r="4.1"/><circle cx="1538.9" cy="481" r="4.1"/><circle cx="1522.8" cy="491.3" r="4.1"/><circle cx="1527.4" cy="491.3" r="4.1"/><circle cx="1532" cy="491.3" r="4.1"/><circle cx="1536.6" cy="491.3" r="4.1"/><circle cx="1700.6" cy="212.9" r="4.1"/><circle cx="1699.4" cy="326.3" r="4.1"/><circle cx="1701.8" cy="326.3" r="4.1"/><circle cx="1699.2" cy="336.6" r="4.1"/><circle cx="1701.6" cy="336.6" r="4.1"/><circle cx="1700.1" cy="346.9" r="4.1"/><circle cx="1702.6" cy="346.9" r="4.1"/><circle cx="1693.8" cy="357.2" r="4.1"/><circle cx="1700.6" cy="357.2" r="4.1"/><circle cx="1696.8" cy="367.6" r="4.1"/><circle cx="1701.3" cy="367.6" r="4.1"/><circle cx="1708.8" cy="367.6" r="4.1"/><circle cx="1693" cy="377.9" r="4.1"/><circle cx="1698.3" cy="377.9" r="4.1"/><circle cx="1703.6" cy="377.9" r="4.1"/><circle cx="1707.3" cy="377.9" r="4.1"/><circle cx="1696" cy="388.2" r="4.1"/><circle cx="1702.8" cy="388.2" r="4.1"/><circle cx="1699.8" cy="398.5" r="4.1"/><circle cx="1704.3" cy="398.5" r="4.1"/><circle cx="1699.8" cy="419.1" r="4.1"/><circle cx="1695" cy="429.4" r="4.1"/><circle cx="1706.5" cy="429.4" r="4.1"/><circle cx="1697.6" cy="439.7" r="4.1"/><circle cx="1704.3" cy="439.7" r="4.1"/><circle cx="1871.7" cy="243.8" r="4.1"/><circle cx="1872.7" cy="285.1" r="4.1"/><circle cx="1871.7" cy="326.3" r="4.1"/><circle cx="1872.2" cy="357.2" r="4.1"/><circle cx="1868.7" cy="377.9" r="4.1"/><circle cx="1874.7" cy="377.9" r="4.1"/><circle cx="1873.7" cy="388.2" r="4.1"/><circle cx="1868.7" cy="398.5" r="4.1"/><circle cx="1874.7" cy="398.5" r="4.1"/><circle cx="1869.3" cy="408.8" r="4.1"/><circle cx="1875.3" cy="408.8" r="4.1"/><circle cx="1868.7" cy="419.1" r="4.1"/><circle cx="1874.7" cy="419.1" r="4.1"/><circle cx="1868.5" cy="429.4" r="4.1"/><circle cx="1872" cy="429.4" r="4.1"/><circle cx="1866.7" cy="439.7" r="4.1"/><circle cx="1871.7" cy="439.7" r="4.1"/><circle cx="1876.7" cy="439.7" r="4.1"/><circle cx="1866.7" cy="450" r="4.1"/><circle cx="1871.7" cy="450" r="4.1"/><circle cx="1876.7" cy="450" r="4.1"/><circle cx="1865.6" cy="460.3" r="4.1"/><circle cx="1870" cy="460.3" r="4.1"/><circle cx="1874.4" cy="460.3" r="4.1"/><circle cx="1878.8" cy="460.3" r="4.1"/><circle cx="1864.8" cy="470.7" r="4.1"/><circle cx="1869.2" cy="470.7" r="4.1"/><circle cx="1873.6" cy="470.7" r="4.1"/><circle cx="1878" cy="470.7" r="4.1"/><circle cx="1865.1" cy="481" r="4.1"/><circle cx="1869.5" cy="481" r="4.1"/><circle cx="1873.9" cy="481" r="4.1"/><circle cx="1878.3" cy="481" r="4.1"/></g>
<line x1="1478" y1="111" x2="1478" y2="535.4" stroke="#000" stroke-width="2.4"/>
<line x1="1476.8" y1="522.8" x2="1995" y2="522.8" stroke="#000" stroke-width="2.4"/>
<line x1="1649.6" y1="522.8" x2="1649.6" y2="535.4" stroke="#000" stroke-width="2.4"/>
<line x1="1821.9" y1="522.8" x2="1821.9" y2="535.4" stroke="#000" stroke-width="2.4"/>
<line x1="1993.5" y1="522.8" x2="1993.5" y2="535.4" stroke="#000" stroke-width="2.4"/>
<text x="1470.5" y="535.8" font-size="36.3" text-anchor="end" fill="#000" stroke="#000" stroke-width="0.3">0</text>
<line x1="1478" y1="419.1" x2="1487.6" y2="419.1" stroke="#000" stroke-width="2.4"/>
<text x="1470.5" y="432.7" font-size="36.3" text-anchor="end" fill="#000" stroke="#000" stroke-width="0.3">50</text>
<line x1="1478" y1="316" x2="1487.6" y2="316" stroke="#000" stroke-width="2.4"/>
<text x="1470.5" y="329.6" font-size="36.3" text-anchor="end" fill="#000" stroke="#000" stroke-width="0.3">100</text>
<line x1="1478" y1="212.9" x2="1487.6" y2="212.9" stroke="#000" stroke-width="2.4"/>
<text x="1470.5" y="226.5" font-size="36.3" text-anchor="end" fill="#000" stroke="#000" stroke-width="0.3">150</text>
<text x="1563" y="557.4" font-size="36.8" text-anchor="middle" fill="#000" stroke="#000" stroke-width="0.3">No</text>
<text x="1563" y="589.1" font-size="36.8" text-anchor="middle" fill="#000" stroke="#000" stroke-width="0.3">blocker</text>
<text x="1735.7" y="573.5" font-size="36.8" text-anchor="middle" fill="#000" stroke="#000" stroke-width="0.3">L-AP4</text>
<text x="1907.7" y="573.5" font-size="36.8" text-anchor="middle" fill="#000" stroke="#000" stroke-width="0.3">Washout</text>
<text x="-1" y="768" font-size="54" text-anchor="start" fill="#000" font-weight="bold">d</text>
<g transform="translate(16.5,1022) rotate(-90)">
<text x="0" y="14.9" font-size="41.3" text-anchor="middle" fill="#000" stroke="#000" stroke-width="0.3">% Cells modulated</text>
</g>
<line x1="123.7" y1="1136.8" x2="133" y2="1136.8" stroke="#000" stroke-width="2.4"/>
<line x1="123.7" y1="1054.6" x2="136.5" y2="1054.6" stroke="#000" stroke-width="2.4"/>
<line x1="123.7" y1="972.4" x2="136.5" y2="972.4" stroke="#000" stroke-width="2.4"/>
<line x1="123.7" y1="890.4" x2="136.5" y2="890.4" stroke="#000" stroke-width="2.4"/>
<g clip-path="url(#cd)">
<line x1="206" y1="852.3" x2="206" y2="1023.3" stroke="#652A12" stroke-width="8"/>
<line x1="187.1" y1="852.3" x2="224.9" y2="852.3" stroke="#652A12" stroke-width="8.3"/>
<line x1="206" y1="1151.5" x2="206" y2="1160.7" stroke="#652A12" stroke-width="8"/>
<line x1="187.1" y1="1160.7" x2="224.9" y2="1160.7" stroke="#652A12" stroke-width="8.3"/>
<rect x="169.2" y="1023.3" width="73.7" height="128.2" fill="#652A12" fill-opacity="0.5" stroke="#652A12" stroke-width="8.3"/>
<line x1="169.2" y1="1110.8" x2="242.9" y2="1110.8" stroke="#652A12" stroke-width="8.3"/>
<line x1="356.8" y1="1210.9" x2="356.8" y2="1217" stroke="#652A12" stroke-width="8"/>
<line x1="338" y1="1217" x2="375.6" y2="1217" stroke="#652A12" stroke-width="8.3"/>
<rect x="319.8" y="1171.5" width="74.1" height="39.4" fill="#652A12" fill-opacity="0.5" stroke="#652A12" stroke-width="8.3"/>
<line x1="319.8" y1="1196.6" x2="393.9" y2="1196.6" stroke="#652A12" stroke-width="8.3"/>
<line x1="507.5" y1="1205.5" x2="507.5" y2="1216.5" stroke="#652A12" stroke-width="8"/>
<line x1="489" y1="1216.5" x2="526" y2="1216.5" stroke="#652A12" stroke-width="8.3"/>
<rect x="470.6" y="1110.6" width="73.9" height="94.9" fill="#652A12" fill-opacity="0.5" stroke="#652A12" stroke-width="8.3"/>
<line x1="470.6" y1="1201.2" x2="544.5" y2="1201.2" stroke="#652A12" stroke-width="8.3"/>
<g fill="#652A12"><circle cx="147.8" cy="852.2" r="6.3"/><circle cx="141.4" cy="1080.2" r="6.3"/><circle cx="159" cy="1110.6" r="6.3"/><circle cx="143.8" cy="1148.6" r="6.3"/><circle cx="156.4" cy="1160.6" r="6.3"/><circle cx="291.6" cy="1171.6" r="6.3"/><circle cx="298.8" cy="1171.6" r="6.3"/><circle cx="309.8" cy="1196.4" r="6.3"/><circle cx="294.2" cy="1209" r="6.3"/><circle cx="307" cy="1217" r="6.3"/><circle cx="449.2" cy="852.2" r="6.3"/><circle cx="442.4" cy="1196" r="6.3"/><circle cx="445.2" cy="1201.6" r="6.3"/><circle cx="460.4" cy="1200.6" r="6.3"/><circle cx="457.6" cy="1217" r="6.3"/></g>
</g>
<line x1="123.7" y1="808.4" x2="123.7" y2="1230.8" stroke="#000" stroke-width="2.4"/>
<line x1="122.5" y1="1218.1" x2="583.6" y2="1218.1" stroke="#000" stroke-width="2.4"/>
<line x1="276.3" y1="1218.1" x2="276.3" y2="1230.8" stroke="#000" stroke-width="2.4"/>
<line x1="429" y1="1218.1" x2="429" y2="1230.8" stroke="#000" stroke-width="2.4"/>
<line x1="582.4" y1="1218.1" x2="582.4" y2="1230.8" stroke="#000" stroke-width="2.4"/>
<text x="109.5" y="1231.8" font-size="37.5" text-anchor="end" fill="#000" stroke="#000" stroke-width="0.3">0</text>
<text x="109.5" y="1149.4" font-size="37.5" text-anchor="end" fill="#000" stroke="#000" stroke-width="0.3">20</text>
<text x="109.5" y="1067.2" font-size="37.5" text-anchor="end" fill="#000" stroke="#000" stroke-width="0.3">40</text>
<text x="109.5" y="985" font-size="37.5" text-anchor="end" fill="#000" stroke="#000" stroke-width="0.3">60</text>
<text x="109.5" y="903" font-size="37.5" text-anchor="end" fill="#000" stroke="#000" stroke-width="0.3">80</text>
<g transform="translate(176.9,1273.9) rotate(-45)">
<text x="0" y="13.3" font-size="37" text-anchor="middle" fill="#000" stroke="#000" stroke-width="0.3">No</text>
</g>
<g transform="translate(198.5,1296.7) rotate(-45)">
<text x="0" y="13.3" font-size="37" text-anchor="middle" fill="#000" stroke="#000" stroke-width="0.3">blocker</text>
</g>
<g transform="translate(341.3,1288) rotate(-45)">
<text x="0" y="13.4" font-size="37.2" text-anchor="middle" fill="#000" stroke="#000" stroke-width="0.3">(rs)-CPP</text>
</g>
<g transform="translate(367.3,1315.4) rotate(-45)">
<text x="0" y="13.4" font-size="37.2" text-anchor="middle" fill="#000" stroke="#000" stroke-width="0.3">+CNQX</text>
</g>
<g transform="translate(505.4,1295.8) rotate(-45)">
<text x="0" y="13.5" font-size="37.5" text-anchor="middle" fill="#000" stroke="#000" stroke-width="0.3">Washout</text>
</g>
<text x="651" y="768" font-size="54" text-anchor="start" fill="#000" font-weight="bold">e</text>
<g transform="translate(669,986.5) rotate(-90)">
<text x="0" y="15" font-size="41.8" text-anchor="middle" fill="#000" stroke="#000" stroke-width="0.3">fr (Hz)</text>
</g>
<line x1="884.4" y1="737.5" x2="1292" y2="737.5" stroke="#000" stroke-width="4.6"/>
<text x="1088.2" y="740.1" font-size="32" text-anchor="middle" fill="#231f20" font-weight="bold">***</text>
<line x1="884.4" y1="771.8" x2="1091.6" y2="771.8" stroke="#000" stroke-width="4.6"/>
<text x="988" y="774.4" font-size="32" text-anchor="middle" fill="#231f20" font-weight="bold">***</text>
<line x1="818" y1="796.4" x2="891.6" y2="796.4" stroke="#000" stroke-width="4.6"/>
<text x="854.8" y="799" font-size="32" text-anchor="middle" fill="#231f20" font-weight="bold">***</text>
<line x1="1018.3" y1="1075.8" x2="1091.9" y2="1075.8" stroke="#000" stroke-width="5.2"/>
<text x="1055.1" y="1066.6" font-size="28" text-anchor="middle" fill="#231f20" stroke="#231f20" stroke-width="0.3">n.s.</text>
<line x1="1218.8" y1="1058.7" x2="1292.2" y2="1058.7" stroke="#000" stroke-width="4.6"/>
<text x="1255.5" y="1061.3" font-size="32" text-anchor="middle" fill="#231f20" font-weight="bold">**</text>
<line x1="778.1" y1="1116" x2="787.6" y2="1116" stroke="#000" stroke-width="2.4"/>
<line x1="778.1" y1="1013.7" x2="787.6" y2="1013.7" stroke="#000" stroke-width="2.4"/>
<line x1="778.1" y1="911.6" x2="787.6" y2="911.6" stroke="#000" stroke-width="2.4"/>
<line x1="778.1" y1="809.4" x2="787.6" y2="809.4" stroke="#000" stroke-width="2.4"/>
<line x1="777" y1="1218.1" x2="1319" y2="1218.1" stroke="#000" stroke-width="2.4"/>
<g clip-path="url(#ce)">
<g fill="#662700"><circle cx="801.2" cy="1135.7" r="4.2"/><circle cx="800.1" cy="1140.2" r="4.2"/><circle cx="800.7" cy="1152.8" r="4.2"/><circle cx="801" cy="1157.8" r="4.2"/><circle cx="801.6" cy="1160.4" r="4.2"/><circle cx="800.9" cy="1163.2" r="4.2"/><circle cx="799.7" cy="1165.7" r="4.2"/><circle cx="801" cy="1167" r="4.2"/><circle cx="801.6" cy="1169.1" r="4.2"/><circle cx="802.2" cy="1171.9" r="4.2"/><circle cx="800.2" cy="1174.5" r="4.2"/><circle cx="800.5" cy="1175.9" r="4.2"/><circle cx="801.6" cy="1178" r="4.2"/><circle cx="802.1" cy="1180.6" r="4.2"/><circle cx="801.3" cy="1184.1" r="4.2"/><circle cx="801.1" cy="1185.9" r="4.2"/><circle cx="799.7" cy="1187.1" r="4.2"/><circle cx="797.9" cy="1189.6" r="4.2"/><circle cx="801.4" cy="1190.1" r="4.2"/><circle cx="800.8" cy="1193.1" r="4.2"/><circle cx="798.3" cy="1192.1" r="4.2"/><circle cx="801.8" cy="1194" r="4.2"/><circle cx="797.1" cy="1194.6" r="4.2"/><circle cx="797.6" cy="1196.9" r="4.2"/><circle cx="798.6" cy="1197.2" r="4.2"/><circle cx="801.4" cy="1198.9" r="4.2"/><circle cx="801.7" cy="1199.4" r="4.2"/><circle cx="797.4" cy="1202.4" r="4.2"/><circle cx="798.4" cy="1201.1" r="4.2"/><circle cx="796.7" cy="1204.2" r="4.2"/><circle cx="804.3" cy="1204.5" r="4.2"/><circle cx="799.7" cy="1205.9" r="4.2"/><circle cx="795.5" cy="1206.5" r="4.2"/><circle cx="801.4" cy="1208.4" r="4.2"/><circle cx="802.4" cy="1208.5" r="4.2"/><circle cx="806" cy="1211.3" r="4.2"/><circle cx="797.6" cy="1211.5" r="4.2"/><circle cx="795.1" cy="1211" r="4.2"/><circle cx="799.5" cy="1212.8" r="4.2"/><circle cx="794.9" cy="1213.6" r="4.2"/><circle cx="794.3" cy="1213.3" r="4.2"/><circle cx="806.9" cy="1214.9" r="4.2"/><circle cx="796.5" cy="1215.7" r="4.2"/><circle cx="800.8" cy="1215.7" r="4.2"/><circle cx="805.4" cy="1217.3" r="4.2"/><circle cx="797.9" cy="1217.5" r="4.2"/><circle cx="794" cy="1218.4" r="4.2"/><circle cx="866.8" cy="809.4" r="4.2"/><circle cx="866.6" cy="830.4" r="4.2"/><circle cx="864" cy="914" r="4.2"/><circle cx="867" cy="919" r="4.2"/><circle cx="866.7" cy="950.4" r="4.2"/><circle cx="865.7" cy="976.5" r="4.2"/><circle cx="866.7" cy="1013.2" r="4.2"/><circle cx="865.6" cy="1029" r="4.2"/><circle cx="864.8" cy="1050" r="4.2"/><circle cx="864.4" cy="1056" r="4.2"/><circle cx="864.8" cy="1062" r="4.2"/><circle cx="864.1" cy="1067" r="4.2"/><circle cx="865.2" cy="1071.5" r="4.2"/><circle cx="866.7" cy="1076" r="4.2"/><circle cx="866.5" cy="1092.6" r="4.2"/><circle cx="867" cy="1097" r="4.2"/><circle cx="866.6" cy="1112.6" r="4.2"/><circle cx="865" cy="1123" r="4.2"/><circle cx="866" cy="1128.5" r="4.2"/><circle cx="865.6" cy="1141" r="4.2"/><circle cx="866.8" cy="1149" r="4.2"/><circle cx="865.9" cy="1173" r="4.2"/><circle cx="865" cy="1181.4" r="4.2"/><circle cx="866.3" cy="1195.9" r="4.2"/><circle cx="867.7" cy="1199.5" r="4.2"/><circle cx="867.4" cy="1201.4" r="4.2"/><circle cx="864.7" cy="1204" r="4.2"/><circle cx="867.1" cy="1207.3" r="4.2"/><circle cx="867.4" cy="1208.5" r="4.2"/><circle cx="868.7" cy="1210.7" r="4.2"/><circle cx="863.8" cy="1211.7" r="4.2"/><circle cx="867" cy="1213.5" r="4.2"/><circle cx="867.3" cy="1214" r="4.2"/><circle cx="865.5" cy="1215.9" r="4.2"/><circle cx="868" cy="1216" r="4.2"/><circle cx="864.9" cy="1218" r="4.2"/><circle cx="866.8" cy="1217.3" r="4.2"/><circle cx="995.8" cy="1151.2" r="4.2"/><circle cx="995.5" cy="1154" r="4.2"/><circle cx="995.7" cy="1154.8" r="4.2"/><circle cx="995.6" cy="1158.6" r="4.2"/><circle cx="996.1" cy="1159.6" r="4.2"/><circle cx="995.3" cy="1161.8" r="4.2"/><circle cx="996.9" cy="1165" r="4.2"/><circle cx="996.9" cy="1167.5" r="4.2"/><circle cx="995.1" cy="1169.5" r="4.2"/><circle cx="996" cy="1172.2" r="4.2"/><circle cx="997.5" cy="1174.6" r="4.2"/><circle cx="994.8" cy="1176.9" r="4.2"/><circle cx="998.1" cy="1179.3" r="4.2"/><circle cx="994.7" cy="1180.4" r="4.2"/><circle cx="994.5" cy="1182.5" r="4.2"/><circle cx="998.2" cy="1186" r="4.2"/><circle cx="997.1" cy="1186" r="4.2"/><circle cx="997.1" cy="1187.5" r="4.2"/><circle cx="994.2" cy="1187.2" r="4.2"/><circle cx="998" cy="1189.6" r="4.2"/><circle cx="995.3" cy="1190" r="4.2"/><circle cx="993.2" cy="1192" r="4.2"/><circle cx="995" cy="1192.7" r="4.2"/><circle cx="995.5" cy="1194.4" r="4.2"/><circle cx="999.7" cy="1194.7" r="4.2"/><circle cx="999.1" cy="1197.2" r="4.2"/><circle cx="992.8" cy="1196.9" r="4.2"/><circle cx="995.9" cy="1199.7" r="4.2"/><circle cx="995.1" cy="1199.6" r="4.2"/><circle cx="996.7" cy="1201.1" r="4.2"/><circle cx="999.6" cy="1200.9" r="4.2"/><circle cx="999.4" cy="1203.4" r="4.2"/><circle cx="991.7" cy="1203.4" r="4.2"/><circle cx="999.1" cy="1207" r="4.2"/><circle cx="991.4" cy="1206.2" r="4.2"/><circle cx="996.3" cy="1209" r="4.2"/><circle cx="993" cy="1208.5" r="4.2"/><circle cx="994.6" cy="1211.3" r="4.2"/><circle cx="993.6" cy="1211.5" r="4.2"/><circle cx="993.9" cy="1210.3" r="4.2"/><circle cx="998.9" cy="1213.1" r="4.2"/><circle cx="991.6" cy="1213.3" r="4.2"/><circle cx="991.2" cy="1213.6" r="4.2"/><circle cx="999" cy="1215.9" r="4.2"/><circle cx="998.1" cy="1215.2" r="4.2"/><circle cx="995.1" cy="1215.2" r="4.2"/><circle cx="1001.8" cy="1217" r="4.2"/><circle cx="1001.8" cy="1216.9" r="4.2"/><circle cx="992.3" cy="1217.3" r="4.2"/><circle cx="1062.2" cy="1154.4" r="4.2"/><circle cx="1062.3" cy="1164.7" r="4.2"/><circle cx="1061.3" cy="1167.6" r="4.2"/><circle cx="1060.9" cy="1169.2" r="4.2"/><circle cx="1061.6" cy="1172" r="4.2"/><circle cx="1062.1" cy="1174.1" r="4.2"/><circle cx="1061.1" cy="1175.9" r="4.2"/><circle cx="1060.5" cy="1179" r="4.2"/><circle cx="1062" cy="1181.2" r="4.2"/><circle cx="1060.4" cy="1183" r="4.2"/><circle cx="1062.5" cy="1185.5" r="4.2"/><circle cx="1059.9" cy="1187.6" r="4.2"/><circle cx="1063.3" cy="1189.6" r="4.2"/><circle cx="1059.9" cy="1192" r="4.2"/><circle cx="1062.6" cy="1192.8" r="4.2"/><circle cx="1059.5" cy="1194" r="4.2"/><circle cx="1060" cy="1194.3" r="4.2"/><circle cx="1061.6" cy="1196.4" r="4.2"/><circle cx="1060.4" cy="1196.4" r="4.2"/><circle cx="1064.8" cy="1199.6" r="4.2"/><circle cx="1058.7" cy="1199.9" r="4.2"/><circle cx="1058.4" cy="1201.3" r="4.2"/><circle cx="1065.2" cy="1202" r="4.2"/><circle cx="1063.5" cy="1203.7" r="4.2"/><circle cx="1058.9" cy="1204" r="4.2"/><circle cx="1057.9" cy="1205.6" r="4.2"/><circle cx="1060.5" cy="1205.4" r="4.2"/><circle cx="1060.5" cy="1208.9" r="4.2"/><circle cx="1063.4" cy="1208.4" r="4.2"/><circle cx="1062.9" cy="1210.6" r="4.2"/><circle cx="1057.6" cy="1210.9" r="4.2"/><circle cx="1060.4" cy="1213.4" r="4.2"/><circle cx="1066.3" cy="1212.9" r="4.2"/><circle cx="1062.4" cy="1213.4" r="4.2"/><circle cx="1060.5" cy="1214.9" r="4.2"/><circle cx="1064.3" cy="1215.9" r="4.2"/><circle cx="1065" cy="1215.6" r="4.2"/><circle cx="1066.4" cy="1217.9" r="4.2"/><circle cx="1063.5" cy="1217.5" r="4.2"/><circle cx="1058.9" cy="1217.8" r="4.2"/><circle cx="1191" cy="1130.8" r="4.2"/><circle cx="1191.5" cy="1142.2" r="4.2"/><circle cx="1192.1" cy="1148.5" r="4.2"/><circle cx="1191.9" cy="1162" r="4.2"/><circle cx="1192" cy="1173.3" r="4.2"/><circle cx="1191.4" cy="1175.9" r="4.2"/><circle cx="1192" cy="1178.2" r="4.2"/><circle cx="1192.2" cy="1181.3" r="4.2"/><circle cx="1190.5" cy="1183.1" r="4.2"/><circle cx="1192.7" cy="1185" r="4.2"/><circle cx="1191.6" cy="1188.3" r="4.2"/><circle cx="1189.4" cy="1189.9" r="4.2"/><circle cx="1189.8" cy="1192.6" r="4.2"/><circle cx="1194.2" cy="1194.4" r="4.2"/><circle cx="1189" cy="1196.8" r="4.2"/><circle cx="1191.9" cy="1197" r="4.2"/><circle cx="1191.7" cy="1199.2" r="4.2"/><circle cx="1194" cy="1199" r="4.2"/><circle cx="1190.9" cy="1202" r="4.2"/><circle cx="1189.3" cy="1201.6" r="4.2"/><circle cx="1190.6" cy="1204" r="4.2"/><circle cx="1188.2" cy="1204.4" r="4.2"/><circle cx="1190.2" cy="1205.2" r="4.2"/><circle cx="1189.4" cy="1205.7" r="4.2"/><circle cx="1186.3" cy="1208.1" r="4.2"/><circle cx="1190.7" cy="1208.5" r="4.2"/><circle cx="1189.8" cy="1210.1" r="4.2"/><circle cx="1188.3" cy="1210.9" r="4.2"/><circle cx="1197.4" cy="1212.8" r="4.2"/><circle cx="1187.9" cy="1213.3" r="4.2"/><circle cx="1190.2" cy="1212.3" r="4.2"/><circle cx="1186.3" cy="1215.5" r="4.2"/><circle cx="1196" cy="1215.3" r="4.2"/><circle cx="1191.2" cy="1215.2" r="4.2"/><circle cx="1187.3" cy="1218.1" r="4.2"/><circle cx="1189.3" cy="1217.6" r="4.2"/><circle cx="1196.6" cy="1217.9" r="4.2"/><circle cx="1256.7" cy="1075.9" r="4.2"/><circle cx="1256.5" cy="1117" r="4.2"/><circle cx="1256.9" cy="1123.3" r="4.2"/><circle cx="1256.2" cy="1149.4" r="4.2"/><circle cx="1257.3" cy="1154" r="4.2"/><circle cx="1256.6" cy="1159" r="4.2"/><circle cx="1258.2" cy="1169.6" r="4.2"/><circle cx="1256.3" cy="1171.9" r="4.2"/><circle cx="1256.5" cy="1174.1" r="4.2"/><circle cx="1254.7" cy="1177.3" r="4.2"/><circle cx="1255.8" cy="1178.8" r="4.2"/><circle cx="1255.9" cy="1181.5" r="4.2"/><circle cx="1256.5" cy="1184" r="4.2"/><circle cx="1257.6" cy="1185.9" r="4.2"/><circle cx="1259.1" cy="1189" r="4.2"/><circle cx="1254.2" cy="1191.2" r="4.2"/><circle cx="1259.4" cy="1193.5" r="4.2"/><circle cx="1254.4" cy="1195.8" r="4.2"/><circle cx="1257.7" cy="1194.5" r="4.2"/><circle cx="1253.2" cy="1198.3" r="4.2"/><circle cx="1257.9" cy="1197.2" r="4.2"/><circle cx="1253.7" cy="1199.3" r="4.2"/><circle cx="1254.7" cy="1200.3" r="4.2"/><circle cx="1255.5" cy="1201.6" r="4.2"/><circle cx="1260.2" cy="1202.7" r="4.2"/><circle cx="1253.8" cy="1205.1" r="4.2"/><circle cx="1257.8" cy="1205" r="4.2"/><circle cx="1258.5" cy="1207.4" r="4.2"/><circle cx="1259.6" cy="1207.3" r="4.2"/><circle cx="1253.6" cy="1209.4" r="4.2"/><circle cx="1257.1" cy="1209.5" r="4.2"/><circle cx="1256.1" cy="1212" r="4.2"/><circle cx="1257.4" cy="1211" r="4.2"/><circle cx="1253.5" cy="1213.1" r="4.2"/><circle cx="1256.7" cy="1213" r="4.2"/><circle cx="1256.4" cy="1213.1" r="4.2"/><circle cx="1256.7" cy="1216" r="4.2"/><circle cx="1257.3" cy="1216.6" r="4.2"/><circle cx="1250.3" cy="1216.5" r="4.2"/></g>
<line x1="824.9" y1="1137" x2="824.9" y2="1182.4" stroke="#662700" stroke-width="6.3"/>
<line x1="816.8" y1="1137" x2="833" y2="1137" stroke="#662700" stroke-width="6.3"/>
<rect x="809.1" y="1182.4" width="31.5" height="31.6" fill="#662700" fill-opacity="0.5" stroke="#662700" stroke-width="6.3"/>
<line x1="809.1" y1="1203.5" x2="840.6" y2="1203.5" stroke="#662700" stroke-width="6.3"/>
<line x1="809.1" y1="1195" x2="840.6" y2="1195" stroke="#662700" stroke-width="6.3" stroke-dasharray="12.6 6.3"/>
<line x1="890" y1="830.4" x2="890" y2="1049.7" stroke="#662700" stroke-width="6.3"/>
<line x1="881.9" y1="830.4" x2="898.1" y2="830.4" stroke="#662700" stroke-width="6.3"/>
<line x1="890" y1="1196" x2="890" y2="1215.5" stroke="#662700" stroke-width="6.3"/>
<line x1="881.9" y1="1215.5" x2="898.1" y2="1215.5" stroke="#662700" stroke-width="6.3"/>
<rect x="874.2" y="1049.7" width="31.5" height="146.3" fill="#662700" fill-opacity="0.5" stroke="#662700" stroke-width="6.3"/>
<line x1="874.2" y1="1112.5" x2="905.8" y2="1112.5" stroke="#662700" stroke-width="6.3"/>
<line x1="874.2" y1="1093.1" x2="905.8" y2="1093.1" stroke="#662700" stroke-width="6.3" stroke-dasharray="12.6 6.3"/>
<line x1="1020.1" y1="1151.6" x2="1020.1" y2="1187.7" stroke="#662700" stroke-width="6.3"/>
<line x1="1012" y1="1151.6" x2="1028.2" y2="1151.6" stroke="#662700" stroke-width="6.3"/>
<rect x="1004.4" y="1187.7" width="31.5" height="27.9" fill="#662700" fill-opacity="0.5" stroke="#662700" stroke-width="6.3"/>
<line x1="1004.4" y1="1204.4" x2="1035.8" y2="1204.4" stroke="#662700" stroke-width="6.3"/>
<line x1="1004.4" y1="1197.9" x2="1035.8" y2="1197.9" stroke="#662700" stroke-width="6.3" stroke-dasharray="12.6 6.3"/>
<line x1="1085.5" y1="1154.7" x2="1085.5" y2="1184.4" stroke="#662700" stroke-width="6.3"/>
<line x1="1077.3" y1="1154.7" x2="1093.7" y2="1154.7" stroke="#662700" stroke-width="6.3"/>
<line x1="1085.5" y1="1211.8" x2="1085.5" y2="1216.5" stroke="#662700" stroke-width="6.3"/>
<line x1="1077.3" y1="1216.5" x2="1093.7" y2="1216.5" stroke="#662700" stroke-width="6.3"/>
<rect x="1069.8" y="1184.4" width="31.5" height="27.4" fill="#662700" fill-opacity="0.5" stroke="#662700" stroke-width="6.3"/>
<line x1="1069.8" y1="1201.4" x2="1101.2" y2="1201.4" stroke="#662700" stroke-width="6.3"/>
<line x1="1069.8" y1="1195.3" x2="1101.2" y2="1195.3" stroke="#662700" stroke-width="6.3" stroke-dasharray="12.6 6.3"/>
<line x1="1215.7" y1="1130.8" x2="1215.7" y2="1182.3" stroke="#662700" stroke-width="6.3"/>
<line x1="1207.5" y1="1130.8" x2="1223.9" y2="1130.8" stroke="#662700" stroke-width="6.3"/>
<rect x="1200" y="1182.3" width="31.5" height="32.7" fill="#662700" fill-opacity="0.5" stroke="#662700" stroke-width="6.3"/>
<line x1="1200" y1="1210.2" x2="1231.5" y2="1210.2" stroke="#662700" stroke-width="6.3"/>
<line x1="1200" y1="1196.9" x2="1231.5" y2="1196.9" stroke="#662700" stroke-width="6.3" stroke-dasharray="12.6 6.3"/>
<line x1="1280.8" y1="1117.6" x2="1280.8" y2="1171.5" stroke="#662700" stroke-width="6.3"/>
<line x1="1272.6" y1="1117.6" x2="1289" y2="1117.6" stroke="#662700" stroke-width="6.3"/>
<line x1="1280.8" y1="1209.1" x2="1280.8" y2="1216" stroke="#662700" stroke-width="6.3"/>
<line x1="1272.6" y1="1216" x2="1289" y2="1216" stroke="#662700" stroke-width="6.3"/>
<rect x="1265" y="1171.5" width="31.5" height="37.6" fill="#662700" fill-opacity="0.5" stroke="#662700" stroke-width="6.3"/>
<line x1="1265" y1="1191.1" x2="1296.5" y2="1191.1" stroke="#662700" stroke-width="6.3"/>
<line x1="1265" y1="1183.9" x2="1296.5" y2="1183.9" stroke="#662700" stroke-width="6.3" stroke-dasharray="12.6 6.3"/>
</g>
<line x1="778.1" y1="788" x2="778.1" y2="1230.8" stroke="#000" stroke-width="2.4"/>
<line x1="957.6" y1="1218.1" x2="957.6" y2="1230.8" stroke="#000" stroke-width="2.4"/>
<line x1="1137.5" y1="1218.1" x2="1137.5" y2="1230.8" stroke="#000" stroke-width="2.4"/>
<line x1="1317.8" y1="1218.1" x2="1317.8" y2="1230.8" stroke="#000" stroke-width="2.4"/>
<text x="763.9" y="1231.4" font-size="36.5" text-anchor="end" fill="#000" stroke="#000" stroke-width="0.3">0</text>
<text x="763.9" y="1129.2" font-size="36.5" text-anchor="end" fill="#000" stroke="#000" stroke-width="0.3">50</text>
<text x="763.9" y="1026.9" font-size="36.5" text-anchor="end" fill="#000" stroke="#000" stroke-width="0.3">100</text>
<text x="763.9" y="924.8" font-size="36.5" text-anchor="end" fill="#000" stroke="#000" stroke-width="0.3">150</text>
<text x="763.9" y="822.6" font-size="36.5" text-anchor="end" fill="#000" stroke="#000" stroke-width="0.3">200</text>
<g transform="translate(819.4,1270.6) rotate(-45)">
<text x="0" y="11.5" font-size="32" text-anchor="middle" fill="#231f20" stroke="#231f20" stroke-width="0.3">Basal</text>
</g>
<g transform="translate(874.6,1273.5) rotate(-45)">
<text x="0" y="11.5" font-size="32" text-anchor="middle" fill="#231f20" stroke="#231f20" stroke-width="0.3">Stim.</text>
</g>
<g transform="translate(1019.7,1270.6) rotate(-45)">
<text x="0" y="11.5" font-size="32" text-anchor="middle" fill="#231f20" stroke="#231f20" stroke-width="0.3">Basal</text>
</g>
<g transform="translate(1074.9,1273.5) rotate(-45)">
<text x="0" y="11.5" font-size="32" text-anchor="middle" fill="#231f20" stroke="#231f20" stroke-width="0.3">Stim.</text>
</g>
<g transform="translate(1220,1270.6) rotate(-45)">
<text x="0" y="11.5" font-size="32" text-anchor="middle" fill="#231f20" stroke="#231f20" stroke-width="0.3">Basal</text>
</g>
<g transform="translate(1275.2,1273.5) rotate(-45)">
<text x="0" y="11.5" font-size="32" text-anchor="middle" fill="#231f20" stroke="#231f20" stroke-width="0.3">Stim.</text>
</g>
<text x="844.7" y="1344.2" font-size="36.8" text-anchor="middle" fill="#000" stroke="#000" stroke-width="0.3">No</text>
<text x="844.7" y="1375.7" font-size="36.8" text-anchor="middle" fill="#000" stroke="#000" stroke-width="0.3">blocker</text>
<text x="1045.9" y="1341" font-size="36.8" text-anchor="middle" fill="#000" stroke="#000" stroke-width="0.3">(rs)-CPP</text>
<text x="1045.9" y="1378.6" font-size="36.8" text-anchor="middle" fill="#000" stroke="#000" stroke-width="0.3">+CNQX</text>
<text x="1247.4" y="1360.4" font-size="36.8" text-anchor="middle" fill="#000" stroke="#000" stroke-width="0.3">Washout</text>
</svg></body></html>
